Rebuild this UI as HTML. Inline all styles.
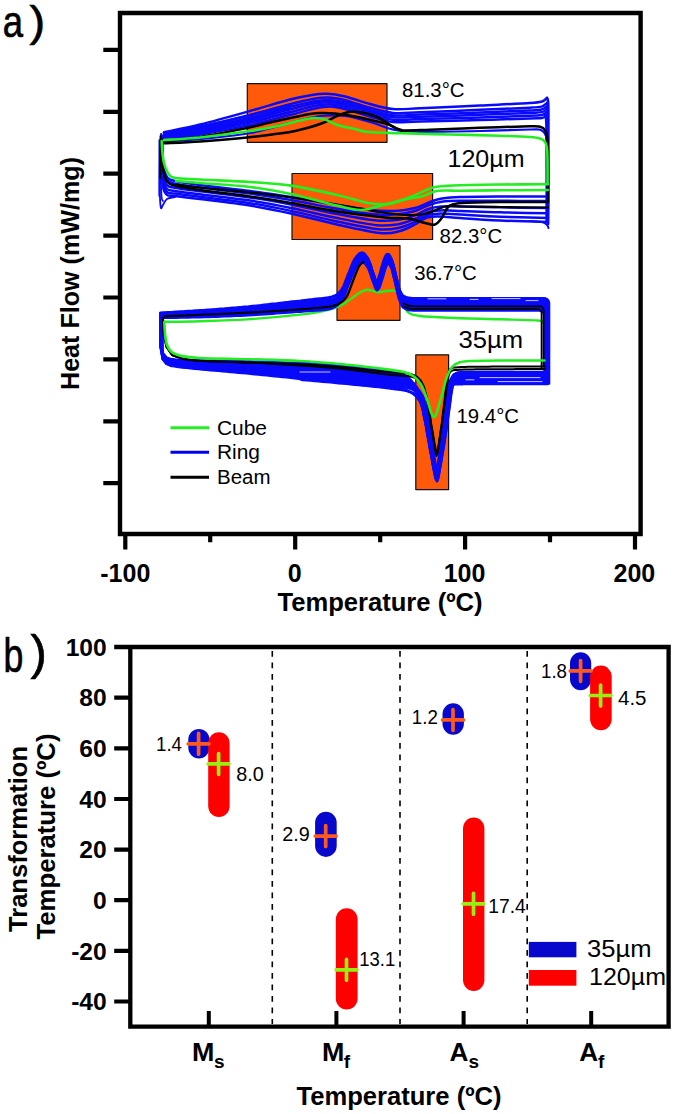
<!DOCTYPE html>
<html lang="en">
<head>
<meta charset="utf-8">
<title>DSC heat flow and transformation temperatures</title>
<style>
html,body{margin:0;padding:0;background:#fff;}
body{width:675px;height:1114px;overflow:hidden;font-family:"Liberation Sans",sans-serif;}
svg{display:block;}
</style>
</head>
<body>
<svg width="675" height="1114" viewBox="0 0 675 1114">
<rect width="675" height="1114" fill="#ffffff"/>
<g fill="none" stroke-linecap="round" stroke-linejoin="round">
<rect x="247.3" y="83.7" width="139.7" height="58.6" fill="#ff5a0a" stroke="#111" stroke-width="1.2"/>
<rect x="292" y="173.5" width="140.6" height="66" fill="#ff5a0a" stroke="#111" stroke-width="1.2"/>
<rect x="337" y="245.7" width="63" height="74.6" fill="#ff5a0a" stroke="#111" stroke-width="1.2"/>
<rect x="415.8" y="354.8" width="32.8" height="134.8" fill="#ff5a0a" stroke="#111" stroke-width="1.2"/>
<path d="M164 132.3C170 131 185.7 128.1 200 124.5C214.3 121 235 115.2 250 111C265 106.8 279.7 102.2 290 99.5C300.3 96.8 305.8 96 312 95C318.2 94 321.5 93.5 327 93.8C332.5 94 337.8 94.8 345 96.5C352.2 98.2 362 101.9 370 104C378 106.1 384.7 108.3 393 109C401.3 109.7 405.5 108.9 420 108.3C434.5 107.7 461.7 106.4 480 105.5C498.3 104.6 519.7 103.7 530 103C540.3 102.3 539.2 102.3 542 101.5C544.8 100.7 546.2 98.6 547 98" stroke="#0a0afa" stroke-width="2.5" />
<path d="M164 134.6C170 133.4 185.7 130.7 200 127.5C214.3 124.3 235 119.1 250 115.2C265 111.3 279.5 106.8 290 104.2C300.5 101.5 306.6 100.1 312.9 99C319.2 98 322.5 97.4 327.9 97.6C333.2 97.8 338 98.6 345 100.2C352 101.9 362 105.6 370 107.8C378 109.9 384.7 112.1 393 112.9C401.3 113.7 405.5 112.8 420 112.3C434.5 111.8 461.7 110.6 480 109.8C498.3 109.1 519.7 108.2 530 107.7C540.3 107.1 539.2 107.2 542 106.5C544.8 105.7 546.2 103.7 547 103.1" stroke="#0a0afa" stroke-width="2.5" />
<path d="M164 136C170 134.9 185.7 132.3 200 129.3C214.3 126.3 235 121.4 250 117.7C265 114 279.4 109.6 290 106.9C300.6 104.2 307 102.7 313.4 101.5C319.8 100.3 323.2 99.7 328.4 99.9C333.7 100.1 338.1 100.8 345 102.5C351.9 104.2 362 107.9 370 110C378 112.1 384.7 114.5 393 115.2C401.3 116 405.5 115.1 420 114.6C434.5 114.2 461.7 113.2 480 112.5C498.3 111.8 519.7 110.9 530 110.4C540.3 109.9 539.2 110.1 542 109.4C544.8 108.7 546.2 106.7 547 106.2" stroke="#0a0afa" stroke-width="2.5" />
<path d="M164 137.2C170 136.2 185.7 133.8 200 130.9C214.3 128 235 123.5 250 120C265 116.4 279.3 112.1 290 109.4C300.7 106.7 307.4 104.9 313.9 103.6C320.4 102.4 323.7 101.8 328.9 101.9C334.1 102.1 338.2 102.8 345 104.5C351.8 106.2 362 109.9 370 112C378 114.1 384.7 116.5 393 117.3C401.3 118.1 405.5 117.2 420 116.7C434.5 116.3 461.7 115.4 480 114.8C498.3 114.1 519.7 113.4 530 112.9C540.3 112.5 539.2 112.7 542 112.1C544.8 111.4 546.2 109.4 547 108.9" stroke="#0a0afa" stroke-width="2.5" />
<path d="M164 138.6C170 137.6 185.7 135.4 200 132.7C214.3 130 235 125.9 250 122.5C265 119.1 279.3 114.9 290 112.2C300.7 109.5 307.9 107.4 314.5 106.1C321 104.7 324.4 104.1 329.5 104.2C334.5 104.3 338.2 105.1 345 106.8C351.8 108.4 362 112.1 370 114.2C378 116.4 384.7 118.8 393 119.7C401.3 120.5 405.5 119.5 420 119.1C434.5 118.7 461.7 118 480 117.4C498.3 116.8 519.7 116.1 530 115.7C540.3 115.3 539.2 115.7 542 115C544.8 114.4 546.2 112.5 547 111.9" stroke="#0a0afa" stroke-width="2.5" />
<path d="M164 140C170 139.1 185.7 137 200 134.5C214.3 132 235 128.2 250 125C265 121.8 279.2 117.8 290 115C300.8 112.2 308.3 109.9 315 108.5C321.7 107.1 325 106.4 330 106.5C335 106.6 338.3 107.3 345 109C351.7 110.7 362 114.3 370 116.5C378 118.7 384.7 121.2 393 122C401.3 122.8 405.5 121.8 420 121.5C434.5 121.2 461.7 120.5 480 120C498.3 119.5 519.7 118.8 530 118.5C540.3 118.2 539.2 118.6 542 118C544.8 117.4 546.2 115.5 547 115" stroke="#0a0afa" stroke-width="2.5" />
<path d="M164 133C170 131.9 185.7 129.5 200 126.5C214.3 123.5 235 118.6 250 115C265 111.4 283.3 106.7 290 105" stroke="#0a0afa" stroke-width="2.5" />
<path d="M164 135.5C170 134.5 185.7 132.3 200 129.5C214.3 126.7 235 122 250 118.5C265 115 283.3 110.2 290 108.5" stroke="#0a0afa" stroke-width="2.5" />
<path d="M164 138C170 137.1 185.7 135.2 200 132.5C214.3 129.8 235 125.4 250 122C265 118.6 283.3 113.7 290 112" stroke="#0a0afa" stroke-width="2.5" />
<path d="M164 142C170 141.5 185.7 140.5 200 139C214.3 137.5 234.2 135.9 250 133C265.8 130.1 283.3 124.3 295 121.5C306.7 118.7 311.7 116.9 320 116C328.3 115.1 336.7 115 345 116C353.3 117 361.7 119.7 370 122C378.3 124.3 386.7 128.4 395 130C403.3 131.6 405.8 131.6 420 131.8C434.2 132 461.7 131.4 480 131C498.3 130.6 519.8 129.7 530 129.5C540.2 129.3 538.3 128.9 541 130C543.7 131.1 544.9 132.7 546 136C547.1 139.3 547.2 147.7 547.5 150" stroke="#0a0afa" stroke-width="2.2" />
<path d="M548 196.5C540 196.5 514.7 196.4 500 196.5C485.3 196.6 469.7 196.7 460 197C450.3 197.3 447 197.7 442 198.5C437 199.3 434.5 200.4 430 202C425.5 203.6 420.8 206.5 415 208C409.2 209.5 402.5 210.7 395 211C387.5 211.3 380.8 211.2 370 210C359.2 208.8 343.2 206.2 330 204C316.8 201.8 304.3 199.2 291 197C277.7 194.8 265.2 193 250 191C234.8 189 212.5 186.7 200 185C187.5 183.3 180.5 182.3 175 181C169.5 179.7 168.9 179.7 167 177C165.1 174.3 164.2 171.8 163.3 165C162.4 158.2 162 140.8 161.7 136" stroke="#0a0afa" stroke-width="2.5" />
<path d="M548 201.1C540 201 514.7 200.9 500 200.8C485.3 200.8 469.7 200.6 460 200.8C450.3 200.9 446.7 201.1 441.6 201.7C436.5 202.4 433.9 203.3 429.5 204.8C425 206.3 420.6 209.3 415 211C409.4 212.6 403.1 214.1 395.9 214.6C388.7 215.1 382.6 215.3 371.8 214.1C361 213 344.7 210.1 331.3 207.7C317.8 205.3 304.5 202.3 291 200C277.5 197.6 265.2 195.7 250 193.6C234.8 191.5 212.5 189.2 200 187.5C187.5 185.9 180.5 184.9 175 183.7C169.5 182.5 168.8 182.7 166.8 180.1C164.8 177.4 164 175 163.1 167.7C162.3 160.4 161.9 141.3 161.6 136" stroke="#0a0afa" stroke-width="2.5" />
<path d="M548 208C540 207.9 514.7 207.6 500 207.3C485.3 207 469.8 206.6 460 206.4C450.2 206.3 446.3 206.2 441.1 206.6C435.9 207 433 207.5 428.6 209C424.3 210.4 420.2 213.6 415 215.4C409.8 217.3 404 219.2 397.2 220C390.5 220.8 385.2 221.5 374.5 220.3C363.8 219.2 347.1 215.9 333.1 213.2C319.2 210.6 304.9 207 291 204.4C277.1 201.8 265.2 199.7 250 197.5C234.8 195.3 212.5 192.9 200 191.3C187.5 189.7 180.6 188.9 175 187.8C169.4 186.6 168.6 187.3 166.6 184.7C164.5 182 163.7 179.9 162.9 171.8C162 163.6 161.7 142 161.5 136" stroke="#0a0afa" stroke-width="2.5" />
<path d="M548 213.3C540 213.2 514.7 212.8 500 212.3C485.3 211.9 469.9 211.2 460 210.9C450.1 210.5 446 210.2 440.7 210.4C435.4 210.6 432.3 210.8 428 212.2C423.7 213.6 420 216.9 415 218.9C410 220.9 404.7 223.2 398.3 224.2C391.9 225.2 387.2 226.3 376.6 225.2C366 224.1 348.9 220.4 334.6 217.5C320.4 214.6 305.1 210.7 291 207.9C276.9 205.1 265.2 202.8 250 200.6C234.8 198.3 212.5 195.9 200 194.2C187.5 192.6 180.6 191.9 175 190.9C169.4 189.9 168.4 190.9 166.3 188.2C164.3 185.6 163.5 183.6 162.6 174.9C161.8 166.2 161.6 142.5 161.4 136" stroke="#0a0afa" stroke-width="2.5" />
<path d="M548 217.9C540 217.7 514.7 217.2 500 216.7C485.3 216.1 469.9 215.1 460 214.6C450.1 214.1 445.7 213.6 440.3 213.6C434.9 213.7 431.7 213.6 427.5 215C423.3 216.4 419.7 219.7 415 221.9C410.3 224 405.3 226.6 399.2 227.8C393.1 229 389 230.4 378.4 229.3C367.8 228.2 350.4 224.3 335.9 221.2C321.3 218.1 305.3 213.9 291 210.9C276.7 207.9 265.2 205.5 250 203.2C234.8 200.8 212.5 198.4 200 196.8C187.5 195.2 180.6 194.5 175 193.6C169.4 192.7 168.2 193.9 166.2 191.3C164.1 188.6 163.3 186.8 162.5 177.6C161.6 168.4 161.5 142.9 161.3 136" stroke="#0a0afa" stroke-width="2.5" />
<path d="M548 222C540 221.8 514.7 221.2 500 220.5C485.3 219.8 470 218.7 460 218C450 217.3 445.5 216.6 440 216.5C434.5 216.4 431.2 216.2 427 217.5C422.8 218.8 419.5 222.2 415 224.5C410.5 226.8 405.8 229.6 400 231C394.2 232.4 390.5 234.1 380 233C369.5 231.9 351.8 227.8 337 224.5C322.2 221.2 305.5 216.7 291 213.5C276.5 210.3 265.2 207.9 250 205.5C234.8 203.1 212.5 200.6 200 199C187.5 197.4 180.7 196.8 175 196C169.3 195.2 168.1 196.7 166 194C163.9 191.3 163.1 189.7 162.3 180C161.5 170.3 161.4 143.3 161.2 136" stroke="#0a0afa" stroke-width="2.5" />
<path d="M175 197C173.7 197.3 169 197.7 167 199C165 200.3 164 203.6 163 205C162 206.4 161.3 210 160.8 207.5C160.3 205 159.9 199.6 159.8 190C159.7 180.4 159.9 159.3 160.1 150C160.3 140.7 160.9 136.7 161.1 134" stroke="#0a0afa" stroke-width="1.8" />
<path d="M161.4 134C161.3 138.3 160.6 149.8 160.6 160C160.6 170.2 161 188.2 161.4 195C161.8 201.8 162.7 200 163 201" stroke="#0a0afa" stroke-width="1.8" />
<path d="M159.3 140C159.3 149.3 159.2 186.7 159.2 196" stroke="#0a0afa" stroke-width="1.6" />
<path d="M547 98C547.2 99.2 548 96.3 548.2 105C548.4 113.7 548.3 134.2 548.3 150C548.3 165.8 548.3 187.7 548.3 200C548.2 212.3 548 220 548 224" stroke="#0a0afa" stroke-width="2.8" />
<path d="M545 114C545.2 115.8 546 114 546.3 125C546.6 136 546.6 163.8 546.6 180C546.6 196.2 546.5 215 546.5 222" stroke="#0a0afa" stroke-width="2.4" />
<path d="M530 221C532 221.2 539.2 221.3 542 222C544.8 222.7 545.9 224 547 225C548.1 226 548.2 227.5 548.5 228" stroke="#0a0afa" stroke-width="2" />
<path d="M164 141C170 140.3 186.2 139.2 200 137C213.8 134.8 235.3 130.4 247 128C258.7 125.6 262 124.3 270 122.5C278 120.7 288.3 118.4 295 117C301.7 115.6 305.7 114.7 310 114C314.3 113.3 316.6 113.1 320.8 113C325 112.9 329.3 112.9 335 113.5C340.7 114.1 348.3 115.2 355 116.5C361.7 117.8 369.2 119.6 375 121C380.8 122.4 386 123.5 390 125C394 126.5 396.3 128.9 399 129.8C401.7 130.7 400.8 130.5 406 130.5C411.2 130.5 417.7 130.2 430 129.8C442.3 129.4 463.3 128.4 480 127.8C496.7 127.2 520 126.5 530 126.3C540 126.1 537.5 126.2 540 126.8C542.5 127.4 543.8 127.8 545 130C546.2 132.2 547 134.2 547.5 140C548 145.8 547.9 154.7 548 165C548.1 175.3 548 195.8 548 202" stroke="#000000" stroke-width="2.5" />
<path d="M164 143.3C170 143 186.2 142.5 200 141.5C213.8 140.5 234.5 138.8 247 137.5C259.5 136.2 267 135.1 275 134C283 132.9 287.4 132.7 295 131C302.6 129.3 313.8 126.3 320.8 123.8C327.8 121.3 332.3 118 337 116C341.7 114 344.8 112.6 349 112C353.2 111.4 357.5 111.8 362 112.5C366.5 113.2 372.2 115 376 116.5C379.8 118 382 119.7 385 121.5C388 123.3 391.2 125.9 394 127.4C396.8 128.9 400.7 129.8 402 130.3" stroke="#000000" stroke-width="2.5" />
<path d="M548 202C540 202 514.3 201.8 500 202C485.7 202.2 470.3 202.4 462 203C453.7 203.6 452.8 204.2 450 205.5C447.2 206.8 447 208.8 445.5 211C444 213.2 442.8 216.8 441 219C439.2 221.2 437.7 223.8 435 224.5C432.3 225.2 429.4 224 425 223C420.6 222 415.2 219.5 408.5 218.6C401.8 217.7 396.9 218.6 385 217.4C373.1 216.2 352.7 213.9 337 211.5C321.3 209.1 305.5 205.5 291 203C276.5 200.5 265.2 198.7 250 196.5C234.8 194.3 212.3 191.8 200 190C187.7 188.2 181.4 187.1 176 185.8C170.6 184.5 169.6 184.8 167.5 182C165.4 179.2 164.2 176 163.3 169C162.4 162 162.1 144.8 161.8 140" stroke="#000000" stroke-width="2.5" />
<path d="M548 207.5C540 207.4 514.3 207.2 500 207C485.7 206.8 470.7 206.7 462 206.5C453.3 206.3 452 205.6 448 206C444 206.4 441.8 207.7 438 209C434.2 210.3 430.5 213 425 214C419.5 215 412.5 215.3 405 215C397.5 214.7 390.8 213.7 380 212C369.2 210.3 354.8 207.4 340 205C325.2 202.6 306 199.6 291 197.5C276 195.4 265.2 194.2 250 192.5C234.8 190.8 212.3 188.8 200 187.5C187.7 186.2 180 185 176 184.5" stroke="#000000" stroke-width="2.2" />
<path d="M160.6 136C160.6 143 160.4 171 160.4 178" stroke="#000000" stroke-width="2" />
<path d="M164 140C170 139.6 185.7 139 200 137.5C214.3 136 237 132.9 250 131C263 129.1 269.7 127.8 278 126C286.3 124.2 294.1 121.8 300 120.5C305.9 119.2 309.5 118.2 313.7 118C317.9 117.8 321.1 118.3 325 119.5C328.9 120.7 332.4 123.4 337.4 125C342.4 126.6 349.9 127.8 355 129C360.1 130.2 360.3 131.3 368 132C375.7 132.7 387.3 132.9 401 133.3C414.7 133.7 433.5 134.1 450 134.5C466.5 134.9 486.7 135.3 500 135.7C513.3 136.1 523.3 136.5 530 137C536.7 137.5 537.5 137.7 540 138.5C542.5 139.3 543.8 139.8 545 142C546.2 144.2 546.9 145 547.3 152C547.7 159 547.5 178.7 547.6 184" stroke="#22ee22" stroke-width="2.6" />
<path d="M548 184.3C540 184.3 514.7 184.3 500 184.5C485.3 184.7 469.2 184.9 460 185.2C450.8 185.4 449.7 185.6 445 186C440.3 186.4 437.3 186.1 432 187.8C426.7 189.5 419.2 193.6 413 196C406.8 198.4 399.7 201.1 395 202.5C390.3 203.9 389.5 204.3 385 204.4C380.5 204.5 376 204.6 368 203C360 201.4 349.8 197.9 337 195C324.2 192.1 305.5 187.8 291 185.6C276.5 183.4 265.2 183 250 182C234.8 181 212.3 180.2 200 179.5C187.7 178.8 181.2 178.8 176 178C170.8 177.2 171 177 169 174.5C167 172 165.1 167.1 164 163C162.9 158.9 162.6 153.7 162.2 150C161.8 146.3 161.8 142.5 161.7 141" stroke="#22ee22" stroke-width="2.6" />
<path d="M548 190C540 190.1 514.7 190.2 500 190.3C485.3 190.4 468.8 190.8 460 190.8C451.2 190.8 451.2 190.4 447 190.5C442.8 190.6 438.5 190.5 434.5 191.4C430.5 192.3 428.1 194.6 423 196C417.9 197.4 410.3 198.3 404 199.7C397.7 201.1 392.2 202.7 385 204.4C377.8 206.1 369 209.8 361 210C353 210.2 348.7 208.3 337 205.6C325.3 202.9 305.5 197.1 291 194C276.5 190.9 265.2 188.8 250 187C234.8 185.2 212.3 184 200 183C187.7 182 180 181.3 176 181" stroke="#22ee22" stroke-width="2.6" />
<path d="M161.5 321.8C167.9 321.7 185.8 321.6 200 321.2C214.2 320.8 230.3 320.5 247 319.4C263.7 318.3 287.5 316 300 314.6C312.5 313.2 315.3 312.8 322 311.3C328.7 309.8 335 308 340 305.8C345 303.6 348.7 300.2 352 298C355.3 295.8 357.5 293.9 360 292.5C362.5 291.1 364.8 290.1 367 289.8C369.2 289.6 371 290.6 373 291C375 291.4 376.8 292.2 379 292.2C381.2 292.2 383.8 291.3 386 291C388.2 290.7 390.2 290.5 392 290.5C393.8 290.5 395.2 290.2 396.5 291C397.8 291.8 398.8 292.5 400 295C401.2 297.5 402.5 303 404 306C405.5 309 406.3 311.3 409 313C411.7 314.7 413.3 315.2 420 316C426.7 316.8 435.7 317.2 449 317.8C462.3 318.4 485.5 318.9 500 319.3C514.5 319.7 528.8 319.9 536 320.4C543.2 320.8 541.2 320.6 543 322C544.8 323.4 545.7 325.2 546.5 329C547.3 332.8 547.8 339.8 548 345C548.2 350.2 548 357.5 548 360" stroke="#22ee22" stroke-width="2.4" />
<path d="M160.5 312.7L164.5 312.5L168.5 312.3L172.5 312.1L176.5 311.8L180.5 311.6L184.5 311.4L188.5 311.1L192.5 310.9L196.5 310.6L200.5 310.3L204.5 310.1L208.5 309.8L212.5 309.5L216.5 309.2L220.5 308.9L224.5 308.6L228.5 308.2L232.5 307.9L236.5 307.6L240.5 307.2L244.5 306.8L248.5 306.5L252.5 306.1L256.5 305.7L260.5 305.3L264.5 304.8L268.5 304.4L272.5 303.9L276.5 303.5L280.5 303L284.5 302.5L288.5 302.1L292.5 301.6L296.5 301.2L300.5 300.8L304.5 300.3L308.5 299.8L312.5 299.4L316.5 298.9L320.5 298.5L321.2 298.5L322 298.4L322.8 298.3L323.5 298.2L324.2 298.1L325 298L325.8 297.9L326.5 297.8L327.2 297.7L328 297.6L328.8 297.5L329.5 297.3L330.2 297.1L331 296.9L331.8 296.7L332.5 296.5L333.2 296.2L334 295.9L334.8 295.6L335.5 295.3L336.2 295L337 294.6L337.8 294L338.5 293.4L339.2 292.7L340 292L340.8 291.1L341.5 290.2L342.2 289.3L343 288.3L343.8 287.1L344.5 285.7L345.2 284.1L346 282.4L346.8 280.5L347.5 278.6L348.2 276.6L349 274.7L349.8 272.9L350.5 271.1L351.2 269.3L352 267.4L352.8 265.6L353.5 263.7L354.2 262L355 260.5L355.8 259.1L356.5 258L357.2 257.1L358 256.2L358.8 255.3L359.5 254.5L360.2 253.8L361 253.3L361.8 252.9L362.5 252.8L363.2 253L364 253.4L364.8 254.1L365.5 254.9L366.2 255.9L367 257L367.8 258.1L368.5 259.4L369.2 261.2L370 263.4L370.8 265.9L371.5 268.3L372.2 270.7L373 272.8L373.8 274.9L374.5 277.2L375.2 279.4L376 281.2L376.8 282.3L377.5 282.5L378.2 281.6L379 279.7L379.8 277.3L380.5 274.8L381.2 272.5L382 270L382.8 267.3L383.5 264.6L384.2 262.1L385 260L385.8 258.1L386.5 256.3L387.2 254.9L388 254.1L388.8 254.3L389.5 255.1L390.2 256.4L391 257.9L391.8 259.6L392.5 262L393.2 265.1L394 268.5L394.8 271.8L395.5 274.8L396.2 278.1L397 281.4L397.8 284.4L398.5 287L399.2 288.9L400 290.6L400.8 292.2L401.5 293.6L402.2 294.7L403 295.6L403.8 296.1L404.5 296.4L405.2 296.8L406 297.1L406.8 297.4L407.5 297.6L408.2 297.8L409 297.9L409.8 298L410.5 298.1L411.2 298.1L412 298.2L412.8 298.2L413.5 298.2L414.2 298.3L418.2 298.3L422.2 298.3L426.2 298.3L430.2 298.3L434.2 298.3L438.2 298.3L442.2 298.3L446.2 298.3L450.2 298.3L454.2 298.3L458.2 298.3L462.2 298.3L466.2 298.3L470.2 298.3L474.2 298.3L478.2 298.3L482.2 298.3L486.2 298.3L490.2 298.3L494.2 298.3L498.2 298.3L502.2 298.3L506.2 298.3L510.2 298.3L514.2 298.3L518.2 298.3L522.2 298.3L526.2 298.3L530.2 298.3L534.2 298.3L538.2 298.3L542.2 298.3L544 298.3L545.3 298.5L546.5 299L547.5 299.8L548.3 300.8L548.8 302L549 303.3L549 383.5" stroke="#0a0afa" stroke-width="2.6" />
<path d="M160.5 313.3L164.5 313.1L168.5 313L172.5 312.8L176.5 312.6L180.5 312.3L184.5 312.1L188.5 311.9L192.5 311.7L196.5 311.4L200.5 311.2L204.5 310.9L208.5 310.7L212.5 310.4L216.5 310.1L220.5 309.8L224.5 309.5L228.5 309.2L232.5 308.9L236.5 308.6L240.5 308.3L244.5 307.9L248.5 307.6L252.5 307.2L256.5 306.8L260.5 306.4L264.5 306L268.5 305.6L272.5 305.1L276.5 304.7L280.5 304.2L284.5 303.8L288.5 303.4L292.5 302.9L296.5 302.5L300.5 302.1L304.5 301.7L308.5 301.2L312.5 300.8L316.5 300.4L320.5 300L321.2 299.9L322 299.8L322.8 299.7L323.5 299.6L324.2 299.4L325 299.3L325.8 299.2L326.5 299.1L327.2 299L328 298.8L328.8 298.7L329.5 298.5L330.2 298.3L331 298L331.8 297.7L332.5 297.4L333.2 297.1L334 296.8L334.8 296.4L335.5 296L336.2 295.5L337 294.9L337.8 294.2L338.5 293.4L339.2 292.6L340 291.7L340.8 290.7L341.5 289.6L342.2 288.5L343 287.1L343.8 285.5L344.5 283.7L345.2 281.8L346 279.8L346.8 277.8L347.5 275.8L348.2 274L349 272.2L349.8 270.4L350.5 268.5L351.2 266.6L352 264.7L352.8 262.9L353.5 261.2L354.2 259.8L355 258.6L355.8 257.6L356.5 256.6L357.2 255.7L358 254.9L358.8 254.1L359.5 253.5L360.2 253.1L361 252.9L361.8 252.9L362.5 253.3L363.2 253.8L364 254.6L364.8 255.6L365.5 256.7L366.2 257.8L367 259L367.8 260.6L368.5 262.7L369.2 265.1L370 267.6L370.8 270.1L371.5 272.4L372.2 274.4L373 276.7L373.8 279L374.5 281L375.2 282.5L376 283.2L376.8 282.7L377.5 281.1L378.2 278.8L379 276.2L379.8 273.8L380.5 271.4L381.2 268.7L382 265.9L382.8 263.2L383.5 260.9L384.2 259L385 257.1L385.8 255.5L386.5 254.4L387.2 254.2L388 254.8L388.8 255.9L389.5 257.4L390.2 259.1L391 261.2L391.8 264.1L392.5 267.4L393.2 270.8L394 274L394.8 277.2L395.5 280.6L396.2 283.9L397 286.8L397.8 289.1L398.5 290.9L399.2 292.7L400 294.2L400.8 295.6L401.5 296.6L402.2 297.3L403 297.7L403.8 298.1L404.5 298.4L405.2 298.7L406 299L406.8 299.2L407.5 299.3L408.2 299.5L409 299.5L409.8 299.6L410.5 299.7L411.2 299.7L412 299.7L412.8 299.8L413.5 299.8L414.2 299.8L418.2 299.8L422.2 299.8L426.2 299.8L430.2 299.8L434.2 299.8L438.2 299.8L442.2 299.8L446.2 299.8L450.2 299.8L454.2 299.8L458.2 299.8L462.2 299.8L466.2 299.8L470.2 299.8L474.2 299.8L478.2 299.8L482.2 299.8L486.2 299.8L490.2 299.8L494.2 299.8L498.2 299.8L502.2 299.8L506.2 299.8L510.2 299.8L514.2 299.8L518.2 299.8L522.2 299.8L526.2 299.8L530.2 299.8L534.2 299.8L538.2 299.8L542.2 299.8L543.5 299.8L544.7 300L546 300.5L547 301.3L547.8 302.3L548.3 303.5L548.5 304.8L548.5 383.2" stroke="#0a0afa" stroke-width="2.6" />
<path d="M160.5 314L164.5 313.8L168.5 313.6L172.5 313.5L176.5 313.3L180.5 313.1L184.5 312.9L188.5 312.7L192.5 312.5L196.5 312.3L200.5 312L204.5 311.8L208.5 311.6L212.5 311.3L216.5 311L220.5 310.8L224.5 310.5L228.5 310.2L232.5 309.9L236.5 309.6L240.5 309.3L244.5 309L248.5 308.7L252.5 308.3L256.5 308L260.5 307.6L264.5 307.2L268.5 306.8L272.5 306.4L276.5 305.9L280.5 305.5L284.5 305.1L288.5 304.6L292.5 304.2L296.5 303.8L300.5 303.5L304.5 303.1L308.5 302.6L312.5 302.2L316.5 301.8L320.5 301.5L321.2 301.4L322 301.3L322.8 301.3L323.5 301.2L324.2 301.1L325 301L325.8 300.9L326.5 300.8L327.2 300.7L328 300.6L328.8 300.5L329.5 300.4L330.2 300.3L331 300.1L331.8 299.9L332.5 299.7L333.2 299.4L334 299.2L334.8 298.9L335.5 298.6L336.2 298.2L337 297.9L337.8 297.4L338.5 296.9L339.2 296.2L340 295.5L340.8 294.7L341.5 293.8L342.2 292.9L343 291.9L343.8 290.8L344.5 289.6L345.2 288.1L346 286.4L346.8 284.6L347.5 282.6L348.2 280.7L349 278.8L349.8 277L350.5 275.2L351.2 273.5L352 271.7L352.8 269.9L353.5 268.1L354.2 266.3L355 264.6L355.8 263L356.5 261.7L357.2 260.6L358 259.7L358.8 258.8L359.5 258L360.2 257.2L361 256.5L361.8 256L362.5 255.6L363.2 255.5L364 255.6L364.8 256L365.5 256.7L366.2 257.5L367 258.4L367.8 259.5L368.5 260.6L369.2 261.8L370 263.6L370.8 265.7L371.5 268.1L372.2 270.5L373 272.8L373.8 274.9L374.5 276.9L375.2 279.1L376 281.2L376.8 283.1L377.5 284.3L378.2 284.6L379 283.7L379.8 281.9L380.5 279.6L381.2 277.1L382 274.9L382.8 272.5L383.5 269.8L384.2 267.1L385 264.7L385.8 262.6L386.5 260.8L387.2 259L388 257.6L388.8 256.8L389.5 256.9L390.2 257.7L391 258.9L391.8 260.4L392.5 262L393.2 264.3L394 267.3L394.8 270.6L395.5 273.8L396.2 276.8L397 280L397.8 283.2L398.5 286.4L399.2 289.1L400 291.2L400.8 293L401.5 294.7L402.2 296.2L403 297.5L403.8 298.4L404.5 298.9L405.2 299.4L406 299.7L406.8 300.1L407.5 300.3L408.2 300.6L409 300.8L409.8 300.9L410.5 301L411.2 301.1L412 301.1L412.8 301.2L413.5 301.2L414.2 301.3L418.2 301.4L422.2 301.4L426.2 301.4L430.2 301.4L434.2 301.4L438.2 301.4L442.2 301.4L446.2 301.4L450.2 301.4L454.2 301.4L458.2 301.4L462.2 301.4L466.2 301.4L470.2 301.4L474.2 301.4L478.2 301.4L482.2 301.4L486.2 301.4L490.2 301.4L494.2 301.4L498.2 301.4L502.2 301.4L506.2 301.4L510.2 301.4L514.2 301.4L518.2 301.4L522.2 301.4L526.2 301.4L530.2 301.4L534.2 301.4L538.2 301.4L542.2 301.4L542.9 301.4L544.2 301.5L545.4 302L546.4 302.8L547.2 303.9L547.7 305.1L547.9 306.4L547.9 382.9" stroke="#0a0afa" stroke-width="2.6" />
<path d="M160.5 314.6L164.5 314.5L168.5 314.3L172.5 314.2L176.5 314L180.5 313.8L184.5 313.7L188.5 313.5L192.5 313.3L196.5 313.1L200.5 312.9L204.5 312.7L208.5 312.4L212.5 312.2L216.5 312L220.5 311.7L224.5 311.5L228.5 311.2L232.5 310.9L236.5 310.6L240.5 310.3L244.5 310.1L248.5 309.7L252.5 309.4L256.5 309.1L260.5 308.7L264.5 308.4L268.5 308L272.5 307.6L276.5 307.2L280.5 306.7L284.5 306.3L288.5 305.9L292.5 305.5L296.5 305.2L300.5 304.8L304.5 304.4L308.5 304L312.5 303.6L316.5 303.2L320.5 302.9L321.2 302.8L322 302.7L322.8 302.6L323.5 302.5L324.2 302.4L325 302.3L325.8 302.2L326.5 302.1L327.2 302L328 301.9L328.8 301.7L329.5 301.6L330.2 301.4L331 301.1L331.8 300.9L332.5 300.6L333.2 300.3L334 300L334.8 299.6L335.5 299.2L336.2 298.8L337 298.2L337.8 297.6L338.5 296.8L339.2 296L340 295L340.8 294L341.5 293L342.2 291.9L343 290.6L343.8 289.1L344.5 287.4L345.2 285.4L346 283.4L346.8 281.4L347.5 279.4L348.2 277.5L349 275.6L349.8 273.9L350.5 272.1L351.2 270.2L352 268.3L352.8 266.4L353.5 264.7L354.2 263L355 261.6L355.8 260.4L356.5 259.5L357.2 258.5L358 257.6L358.8 256.8L359.5 256.1L360.2 255.5L361 255.1L361.8 254.9L362.5 254.9L363.2 255.3L364 255.9L364.8 256.7L365.5 257.6L366.2 258.7L367 259.8L367.8 261L368.5 262.7L369.2 264.8L370 267.1L370.8 269.6L371.5 272.1L372.2 274.3L373 276.3L373.8 278.6L374.5 280.8L375.2 282.8L376 284.3L376.8 285L377.5 284.4L378.2 282.6L379 280.4L379.8 277.8L380.5 275.4L381.2 273.1L382 270.4L382.8 267.6L383.5 265L384.2 262.7L385 260.9L385.8 259L386.5 257.4L387.2 256.3L388 256.2L388.8 256.8L389.5 258L390.2 259.5L391 261.1L391.8 263.2L392.5 266.2L393.2 269.5L394 272.9L394.8 276L395.5 279.2L396.2 282.5L397 286L397.8 289.1L398.5 291.5L399.2 293.5L400 295.3L400.8 297L401.5 298.4L402.2 299.5L403 300.2L403.8 300.6L404.5 301L405.2 301.4L406 301.7L406.8 302L407.5 302.2L408.2 302.4L409 302.5L409.8 302.6L410.5 302.6L411.2 302.7L412 302.8L412.8 302.8L413.5 302.8L414.2 302.9L418.2 302.9L422.2 302.9L426.2 302.9L430.2 302.9L434.2 302.9L438.2 302.9L442.2 302.9L446.2 302.9L450.2 302.9L454.2 302.9L458.2 302.9L462.2 302.9L466.2 302.9L470.2 302.9L474.2 302.9L478.2 302.9L482.2 302.9L486.2 302.9L490.2 302.9L494.2 302.9L498.2 302.9L502.2 302.9L506.2 302.9L510.2 302.9L514.2 302.9L518.2 302.9L522.2 302.9L526.2 302.9L530.2 302.9L534.2 302.9L538.2 302.9L542.2 302.9L542.4 302.9L543.6 303L544.9 303.5L545.9 304.3L546.7 305.4L547.2 306.6L547.4 307.9L547.4 382.6" stroke="#0a0afa" stroke-width="2.6" />
<path d="M160.5 315.2L164.5 315.1L168.5 315L172.5 314.9L176.5 314.7L180.5 314.6L184.5 314.4L188.5 314.3L192.5 314.1L196.5 313.9L200.5 313.7L204.5 313.5L208.5 313.3L212.5 313.1L216.5 312.9L220.5 312.7L224.5 312.4L228.5 312.2L232.5 311.9L236.5 311.7L240.5 311.4L244.5 311.1L248.5 310.8L252.5 310.5L256.5 310.2L260.5 309.9L264.5 309.5L268.5 309.2L272.5 308.8L276.5 308.4L280.5 308L284.5 307.6L288.5 307.2L292.5 306.9L296.5 306.5L300.5 306.2L304.5 305.8L308.5 305.4L312.5 305L316.5 304.7L320.5 304.4L321.2 304.3L322 304.3L322.8 304.2L323.5 304.1L324.2 304.1L325 304L325.8 303.9L326.5 303.8L327.2 303.7L328 303.6L328.8 303.5L329.5 303.4L330.2 303.3L331 303.1L331.8 303L332.5 302.7L333.2 302.5L334 302.2L334.8 301.9L335.5 301.6L336.2 301.3L337 300.9L337.8 300.5L338.5 299.9L339.2 299.3L340 298.6L340.8 297.8L341.5 296.8L342.2 295.9L343 294.8L343.8 293.7L344.5 292.5L345.2 291L346 289.3L346.8 287.4L347.5 285.4L348.2 283.5L349 281.6L349.8 279.7L350.5 277.9L351.2 276.2L352 274.5L352.8 272.7L353.5 270.9L354.2 269.1L355 267.4L355.8 265.8L356.5 264.3L357.2 263.1L358 262.2L358.8 261.3L359.5 260.4L360.2 259.6L361 258.8L361.8 258.2L362.5 257.8L363.2 257.5L364 257.5L364.8 257.8L365.5 258.3L366.2 259L367 259.9L367.8 260.9L368.5 262L369.2 263.1L370 264.5L370.8 266.4L371.5 268.7L372.2 271L373 273.4L373.8 275.6L374.5 277.5L375.2 279.7L376 281.9L376.8 283.9L377.5 285.5L378.2 286.4L379 286.1L379.8 284.7L380.5 282.6L381.2 280.2L382 277.8L382.8 275.6L383.5 273.1L384.2 270.4L385 267.8L385.8 265.6L386.5 263.7L387.2 261.9L388 260.3L388.8 259.1L389.5 258.7L390.2 259.2L391 260.2L391.8 261.5L392.5 263.1L393.2 264.9L394 267.5L394.8 270.7L395.5 273.9L396.2 277L397 280L397.8 283.2L398.5 286.5L399.2 289.8L400 292.4L400.8 294.5L401.5 296.4L402.2 298.1L403 299.6L403.8 300.7L404.5 301.5L405.2 302L406 302.4L406.8 302.8L407.5 303.2L408.2 303.4L409 303.7L409.8 303.9L410.5 304L411.2 304.1L412 304.1L412.8 304.2L413.5 304.3L414.2 304.3L418.2 304.4L422.2 304.4L426.2 304.4L430.2 304.4L434.2 304.4L438.2 304.4L442.2 304.4L446.2 304.4L450.2 304.4L454.2 304.4L458.2 304.4L462.2 304.4L466.2 304.4L470.2 304.4L474.2 304.4L478.2 304.4L482.2 304.4L486.2 304.4L490.2 304.4L494.2 304.4L498.2 304.4L502.2 304.4L506.2 304.4L510.2 304.4L514.2 304.4L518.2 304.4L522.2 304.4L526.2 304.4L530.2 304.4L534.2 304.4L538.2 304.4L541.8 304.4L543.1 304.6L544.3 305.1L545.3 305.9L546.1 306.9L546.6 308.1L546.8 309.4L546.8 382.3" stroke="#0a0afa" stroke-width="2.6" />
<path d="M160.5 315.9L164.5 315.8L168.5 315.7L172.5 315.6L176.5 315.4L180.5 315.3L184.5 315.2L188.5 315L192.5 314.9L196.5 314.7L200.5 314.6L204.5 314.4L208.5 314.2L212.5 314L216.5 313.8L220.5 313.6L224.5 313.4L228.5 313.2L232.5 312.9L236.5 312.7L240.5 312.4L244.5 312.2L248.5 311.9L252.5 311.6L256.5 311.4L260.5 311L264.5 310.7L268.5 310.3L272.5 310L276.5 309.6L280.5 309.2L284.5 308.9L288.5 308.5L292.5 308.2L296.5 307.8L300.5 307.5L304.5 307.2L308.5 306.8L312.5 306.4L316.5 306.1L320.5 305.8L321.2 305.7L322 305.6L322.8 305.5L323.5 305.4L324.2 305.3L325 305.2L325.8 305.1L326.5 305L327.2 304.9L328 304.7L328.8 304.6L329.5 304.4L330.2 304.1L331 303.9L331.8 303.6L332.5 303.3L333.2 302.9L334 302.6L334.8 302.2L335.5 301.8L336.2 301.2L337 300.5L337.8 299.8L338.5 298.9L339.2 298L340 296.9L340.8 295.8L341.5 294.7L342.2 293.4L343 291.9L343.8 290.1L344.5 288.1L345.2 286L346 284L346.8 282L347.5 280.1L348.2 278.3L349 276.5L349.8 274.8L350.5 273L351.2 271.1L352 269.3L352.8 267.5L353.5 265.9L354.2 264.4L355 263.1L355.8 262.2L356.5 261.2L357.2 260.3L358 259.5L358.8 258.7L359.5 258.1L360.2 257.6L361 257.4L361.8 257.3L362.5 257.6L363.2 258.1L364 258.8L364.8 259.7L365.5 260.7L366.2 261.8L367 262.9L367.8 264.4L368.5 266.3L369.2 268.6L370 271L370.8 273.4L371.5 275.7L372.2 277.7L373 279.8L373.8 282.1L374.5 284.1L375.2 285.8L376 286.9L376.8 286.7L377.5 285.2L378.2 283.1L379 280.7L379.8 278.2L380.5 276L381.2 273.4L382 270.7L382.8 268L383.5 265.7L384.2 263.8L385 262L385.8 260.2L386.5 259L387.2 258.6L388 259L388.8 260L389.5 261.3L390.2 262.9L391 264.7L391.8 267.4L392.5 270.5L393.2 273.9L394 277L394.8 280.1L395.5 283.3L396.2 286.8L397 290.3L397.8 293.1L398.5 295.3L399.2 297.3L400 299.1L400.8 300.7L401.5 302L402.2 302.9L403 303.4L403.8 303.8L404.5 304.2L405.2 304.6L406 304.9L406.8 305.1L407.5 305.3L408.2 305.5L409 305.6L409.8 305.7L410.5 305.7L411.2 305.8L412 305.8L412.8 305.9L413.5 305.9L414.2 305.9L418.2 305.9L422.2 305.9L426.2 305.9L430.2 305.9L434.2 305.9L438.2 305.9L442.2 305.9L446.2 305.9L450.2 305.9L454.2 305.9L458.2 305.9L462.2 305.9L466.2 305.9L470.2 305.9L474.2 305.9L478.2 305.9L482.2 305.9L486.2 305.9L490.2 305.9L494.2 305.9L498.2 305.9L502.2 305.9L506.2 305.9L510.2 305.9L514.2 305.9L518.2 305.9L522.2 305.9L526.2 305.9L530.2 305.9L534.2 305.9L538.2 305.9L541.2 305.9L542.5 306.1L543.8 306.6L544.8 307.4L545.6 308.4L546.1 309.6L546.2 310.9L546.2 382" stroke="#0a0afa" stroke-width="2.6" />
<path d="M160.5 316.5L164.5 316.5L168.5 316.4L172.5 316.3L176.5 316.2L180.5 316.1L184.5 315.9L188.5 315.8L192.5 315.7L196.5 315.6L200.5 315.4L204.5 315.3L208.5 315.1L212.5 314.9L216.5 314.8L220.5 314.6L224.5 314.4L228.5 314.2L232.5 313.9L236.5 313.7L240.5 313.5L244.5 313.3L248.5 313L252.5 312.8L256.5 312.5L260.5 312.2L264.5 311.9L268.5 311.5L272.5 311.2L276.5 310.8L280.5 310.5L284.5 310.1L288.5 309.8L292.5 309.5L296.5 309.2L300.5 308.9L304.5 308.5L308.5 308.2L312.5 307.8L316.5 307.5L320.5 307.3L321.2 307.2L322 307.2L322.8 307.1L323.5 307L324.2 306.9L325 306.8L325.8 306.7L326.5 306.6L327.2 306.5L328 306.4L328.8 306.3L329.5 306.2L330.2 306.1L331 305.9L331.8 305.6L332.5 305.4L333.2 305.1L334 304.8L334.8 304.5L335.5 304.1L336.2 303.7L337 303.2L337.8 302.7L338.5 302L339.2 301.2L340 300.3L340.8 299.4L341.5 298.3L342.2 297.2L343 296L343.8 294.7L344.5 293.2L345.2 291.4L346 289.3L346.8 287.2L347.5 285.3L348.2 283.4L349 281.6L349.8 279.8L350.5 278.2L351.2 276.5L352 274.7L352.8 272.9L353.5 271.2L354.2 269.5L355 267.9L355.8 266.6L356.5 265.4L357.2 264.5L358 263.6L358.8 262.7L359.5 261.9L360.2 261.2L361 260.6L361.8 260.2L362.5 260L363.2 260L364 260.3L364.8 260.8L365.5 261.5L366.2 262.4L367 263.3L367.8 264.4L368.5 265.5L369.2 266.9L370 268.8L370.8 271L371.5 273.4L372.2 275.7L373 277.8L373.8 279.7L374.5 281.8L375.2 284L376 285.9L376.8 287.5L377.5 288.4L378.2 288L379 286.4L379.8 284.4L380.5 282L381.2 279.7L382 277.5L382.8 275L383.5 272.4L384.2 269.9L385 267.7L385.8 265.9L386.5 264.2L387.2 262.6L388 261.5L388.8 261.2L389.5 261.6L390.2 262.6L391 264L391.8 265.5L392.5 267.3L393.2 270L394 273.1L394.8 276.2L395.5 279.2L396.2 282.2L397 285.3L397.8 288.8L398.5 292.2L399.2 294.9L400 297.1L400.8 299L401.5 300.9L402.2 302.4L403 303.6L403.8 304.5L404.5 305L405.2 305.4L406 305.8L406.8 306.2L407.5 306.4L408.2 306.7L409 306.9L409.8 307L410.5 307.1L411.2 307.2L412 307.3L412.8 307.3L413.5 307.4L414.2 307.4L418.2 307.4L422.2 307.4L426.2 307.4L430.2 307.4L434.2 307.4L438.2 307.4L442.2 307.4L446.2 307.4L450.2 307.4L454.2 307.4L458.2 307.4L462.2 307.4L466.2 307.4L470.2 307.4L474.2 307.4L478.2 307.4L482.2 307.4L486.2 307.4L490.2 307.4L494.2 307.4L498.2 307.4L502.2 307.4L506.2 307.4L510.2 307.4L514.2 307.4L518.2 307.4L522.2 307.4L526.2 307.4L530.2 307.4L534.2 307.4L538.2 307.4L540.7 307.4L542 307.6L543.2 308.1L544.2 308.9L545 309.9L545.5 311.2L545.7 312.4L545.7 381.7" stroke="#0a0afa" stroke-width="2.6" />
<path d="M160.5 317.2L164.5 317.1L168.5 317.1L172.5 317L176.5 316.9L180.5 316.8L184.5 316.7L188.5 316.6L192.5 316.5L196.5 316.4L200.5 316.3L204.5 316.1L208.5 316L212.5 315.8L216.5 315.7L220.5 315.5L224.5 315.3L228.5 315.1L232.5 315L236.5 314.7L240.5 314.5L244.5 314.3L248.5 314.1L252.5 313.9L256.5 313.6L260.5 313.3L264.5 313L268.5 312.7L272.5 312.4L276.5 312.1L280.5 311.7L284.5 311.4L288.5 311.1L292.5 310.8L296.5 310.5L300.5 310.2L304.5 309.9L308.5 309.6L312.5 309.2L316.5 308.9L320.5 308.7L321.2 308.7L322 308.6L322.8 308.6L323.5 308.5L324.2 308.4L325 308.4L325.8 308.3L326.5 308.2L327.2 308.1L328 308L328.8 307.9L329.5 307.8L330.2 307.7L331 307.5L331.8 307.3L332.5 307L333.2 306.8L334 306.5L334.8 306.1L335.5 305.8L336.2 305.4L337 305L337.8 304.5L338.5 303.8L339.2 303.1L340 302.2L340.8 301.3L341.5 300.2L342.2 299.1L343 297.9L343.8 296.7L344.5 295.3L345.2 293.6L346 291.6L346.8 289.4L347.5 287.1L348.2 285.3L349 283.4L349.8 281.5L350.5 279.7L351.2 278L352 276.3L352.8 274.5L353.5 272.7L354.2 270.9L355 269.2L355.8 267.6L356.5 266.3L357.2 265.1L358 264.2L358.8 263.3L359.5 262.4L360.2 261.6L361 260.9L361.8 260.4L362.5 260L363.2 259.8L364 259.8L364.8 260.2L365.5 260.7L366.2 261.5L367 262.4L367.8 263.5L368.5 264.5L369.2 265.7L370 267.3L370.8 269.3L371.5 271.6L372.2 274L373 276.3L373.8 278.4L374.5 280.4L375.2 282.5L376 284.7L376.8 286.6L377.5 288.2L378.2 289L379 288.3L379.8 286.4L380.5 284.3L381.2 281.8L382 279.5L382.8 277.2L383.5 274.7L384.2 272L385 269.5L385.8 267.3L386.5 265.5L387.2 263.7L388 262.2L388.8 261.2L389.5 261.1L390.2 261.7L391 262.8L391.8 264.2L392.5 265.8L393.2 267.8L394 270.6L394.8 273.8L395.5 277.1L396.2 280L397 283.1L397.8 286.3L398.5 290L399.2 293.5L400 296.2L400.8 298.4L401.5 300.5L402.2 302.4L403 303.9L403.8 305.2L404.5 305.9L405.2 306.5L406 306.9L406.8 307.3L407.5 307.7L408.2 308L409 308.2L409.8 308.4L410.5 308.5L411.2 308.6L412 308.7L412.8 308.8L413.5 308.8L414.2 308.9L418.2 309L422.2 309L426.2 309L430.2 309L434.2 309L438.2 309L442.2 309L446.2 309L450.2 309L454.2 309L458.2 309L462.2 309L466.2 309L470.2 309L474.2 309L478.2 309L482.2 309L486.2 309L490.2 309L494.2 309L498.2 309L502.2 309L506.2 309L510.2 309L514.2 309L518.2 309L522.2 309L526.2 309L530.2 309L534.2 309L538.2 309L540.1 309L541.4 309.1L542.6 309.6L543.7 310.4L544.5 311.5L545 312.7L545.1 314L545.1 381.4" stroke="#0a0afa" stroke-width="2.6" />
<path d="M160.5 317.8L164.5 317.8L168.5 317.7L172.5 317.7L176.5 317.6L180.5 317.5L184.5 317.5L188.5 317.4L192.5 317.3L196.5 317.2L200.5 317.1L204.5 317L208.5 316.9L212.5 316.7L216.5 316.6L220.5 316.5L224.5 316.3L228.5 316.1L232.5 316L236.5 315.8L240.5 315.6L244.5 315.4L248.5 315.2L252.5 315L256.5 314.7L260.5 314.5L264.5 314.2L268.5 313.9L272.5 313.6L276.5 313.3L280.5 313L284.5 312.7L288.5 312.4L292.5 312.1L296.5 311.8L300.5 311.6L304.5 311.3L308.5 311L312.5 310.7L316.5 310.4L320.5 310.2L321.2 310.1L322 310L322.8 310L323.5 309.9L324.2 309.8L325 309.7L325.8 309.6L326.5 309.5L327.2 309.4L328 309.3L328.8 309.1L329.5 309L330.2 308.8L331 308.6L331.8 308.3L332.5 308L333.2 307.7L334 307.3L334.8 306.9L335.5 306.5L336.2 306L337 305.4L337.8 304.7L338.5 303.9L339.2 303L340 301.9L340.8 300.8L341.5 299.7L342.2 298.4L343 297.1L343.8 295.4L344.5 293.5L345.2 291.4L346 289.1L346.8 287.1L347.5 285.3L348.2 283.4L349 281.7L349.8 280.1L350.5 278.4L351.2 276.7L352 274.9L352.8 273.2L353.5 271.5L354.2 269.9L355 268.6L355.8 267.4L356.5 266.5L357.2 265.6L358 264.7L358.8 264L359.5 263.2L360.2 262.7L361 262.2L361.8 262L362.5 262L363.2 262.2L364 262.7L364.8 263.4L365.5 264.3L366.2 265.2L367 266.3L367.8 267.4L368.5 268.7L369.2 270.6L370 272.8L370.8 275.1L371.5 277.4L372.2 279.5L373 281.4L373.8 283.4L374.5 285.5L375.2 287.5L376 289.2L376.8 290.2L377.5 289.9L378.2 288.3L379 286.3L379.8 283.9L380.5 281.6L381.2 279.5L382 277L382.8 274.5L383.5 272L384.2 269.8L385 268L385.8 266.2L386.5 264.6L387.2 263.5L388 263.1L388.8 263.6L389.5 264.5L390.2 265.8L391 267.3L391.8 269.1L392.5 271.7L393.2 274.7L394 277.9L394.8 280.8L395.5 283.7L396.2 286.8L397 290.3L397.8 294L398.5 297L399.2 299.3L400 301.4L400.8 303.4L401.5 305L402.2 306.4L403 307.3L403.8 307.8L404.5 308.3L405.2 308.7L406 309.1L406.8 309.4L407.5 309.7L408.2 309.9L409 310L409.8 310.1L410.5 310.2L411.2 310.3L412 310.3L412.8 310.4L413.5 310.4L414.2 310.5L418.2 310.5L422.2 310.5L426.2 310.5L430.2 310.5L434.2 310.5L438.2 310.5L442.2 310.5L446.2 310.5L450.2 310.5L454.2 310.5L458.2 310.5L462.2 310.5L466.2 310.5L470.2 310.5L474.2 310.5L478.2 310.5L482.2 310.5L486.2 310.5L490.2 310.5L494.2 310.5L498.2 310.5L502.2 310.5L506.2 310.5L510.2 310.5L514.2 310.5L518.2 310.5L522.2 310.5L526.2 310.5L530.2 310.5L534.2 310.5L538.2 310.5L539.6 310.5L540.9 310.7L542.1 311.2L543.1 312L543.9 313L544.4 314.2L544.6 315.5L544.6 381.1" stroke="#0a0afa" stroke-width="2.6" />
<path d="M161 316.5C175.8 315.8 223.2 314 250 312.5C276.8 311 307.3 308.9 322 307.5C336.7 306.1 333.9 305.9 338 304.2C342.1 302.4 344 300.9 346.5 297C349 293.1 350.9 286.1 353 281C355.1 275.9 357.2 269.7 359 266.5C360.8 263.3 362.8 262.8 363.5 262" stroke="#000000" stroke-width="2.2" />
<path d="M403.5 303.3L408 305.5L414 306.3L539.6 306.3L540.6 306.4L541.6 306.8L542.4 307.5L543.1 308.3L543.5 309.3L543.6 310.3L543.6 366" stroke="#000000" stroke-width="1.8" stroke-linejoin="round"/>
<path d="M403.5 306.2L408 308.4L414 309.2L537.6 309.2L538.6 309.3L539.6 309.7L540.4 310.4L541.1 311.2L541.5 312.2L541.6 313.2L541.6 368.5" stroke="#000000" stroke-width="1.8" stroke-linejoin="round"/>
<path d="M428 298.8H446M470 299.4H478M492 298.6H520M526 300.6H538" stroke="#fff" stroke-width="0.9" opacity="0.85"/>
<path d="M160.3 314L160.3 345L162.5 352.9L166.5 357.7L170.5 359.1L174.5 359.5L178.5 359.8L182.5 360L186.5 360.2L190.5 360.3L194.5 360.4L198.5 360.5L202.5 360.6L206.5 360.7L210.5 360.8L214.5 360.9L218.5 361L222.5 361L226.5 361.1L230.5 361.2L234.5 361.2L238.5 361.3L242.5 361.4L246.5 361.5L250.5 361.6L254.5 361.7L258.5 361.8L262.5 361.9L266.5 362L270.5 362.1L274.5 362.3L278.5 362.4L282.5 362.5L286.5 362.7L290.5 362.8L294.5 363L298.5 363.1L302.5 362.5L306.5 362.8L310.5 363.1L314.5 363.5L318.5 363.8L322.5 364.2L326.5 364.6L330.5 364.9L334.5 365.3L338.5 365.7L342.5 366L346.5 366.4L350.5 366.8L354.5 367.2L358.5 367.6L362.5 368L366.5 368.4L370.5 368.8L374.5 369.2L378.5 369.6L382.5 370.1L386.5 370.6L390.5 371.1L391.2 371.2L392 371.3L392.8 371.4L393.5 371.5L394.2 371.6L395 371.7L395.8 371.8L396.5 372L397.2 372.2L398 372.4L398.8 372.6L399.5 372.9L400.2 373.1L401 373.4L401.8 373.7L402.5 374L403.2 374.4L404 374.8L404.8 375.3L405.5 375.8L406.2 376.4L407 377L407.8 377.6L408.5 378.2L409.2 378.8L410 379.5L410.8 380.3L411.5 381.1L412.2 382L413 382.9L413.8 383.9L414.5 384.9L415.2 386.2L416 387.5L416.8 389L417.5 390.6L418.2 392.4L419 394.6L419.8 397L420.5 399.8L421.2 402.8L422 406L422.8 409.4L423.5 413.3L424.2 416.9L425 420.6L425.8 424.4L426.5 428.5L427.2 432.9L428 437.2L428.8 441.4L429.5 445.4L430.2 449.4L431 453.3L431.8 457.2L432.5 461.1L433.2 465L434 468.8L434.8 472.7L435.5 476.2L436.2 479.3L437 478.7L437.8 475.7L438.5 471.9L439.2 467.4L440 463.2L440.8 458.9L441.5 454.6L442.2 450.2L443 445.7L443.8 441.1L444.5 436.4L445.2 431.5L446 426.3L446.8 421L447.5 415.6L448.2 410.1L449 403.9L449.8 398L450.5 392.4L451.2 387.4L452 383.4L452.8 379.8L453.5 377.3L454.2 375.7L455 374.4L455.8 373.5L456.5 373.1L457.2 372.8L458 372.6L458.8 372.4L459.5 372.2L460.2 372.1L461 372.1L461.8 372.1L462.5 372.1L463.2 372L464 372L464.8 372L465.5 372L466.2 372L470.2 372L474.2 372L478.2 372L482.2 372L486.2 372L490.2 372L494.2 372L498.2 372L502.2 372L506.2 372L510.2 372L514.2 372L518.2 372L522.2 372L526.2 372L530.2 372L534.2 372L538.2 372L542.2 372L546.2 372L547.5 372" stroke="#0a0afa" stroke-width="2.6" />
<path d="M161.2 314L161.2 345L162.5 353.4L166.5 358.3L170.5 359.7L174.5 360.1L178.5 360.5L182.5 360.7L186.5 360.9L190.5 361L194.5 361.1L198.5 361.2L202.5 361.4L206.5 361.5L210.5 361.6L214.5 361.8L218.5 361.9L222.5 362L226.5 362L230.5 362.1L234.5 362.2L238.5 362.3L242.5 362.4L246.5 362.5L250.5 362.7L254.5 362.8L258.5 362.9L262.5 363.1L266.5 363.2L270.5 363.4L274.5 363.5L278.5 363.7L282.5 363.8L286.5 364L290.5 364.2L294.5 364.4L298.5 364.5L302.5 364.1L306.5 364.4L310.5 364.7L314.5 365.1L318.5 365.4L322.5 365.8L326.5 366.1L330.5 366.5L334.5 366.9L338.5 367.2L342.5 367.6L346.5 368L350.5 368.4L354.5 368.8L358.5 369.1L362.5 369.5L366.5 369.9L370.5 370.4L374.5 370.8L378.5 371.2L382.5 371.7L386.5 372.2L390.5 372.7L391.2 372.8L392 372.9L392.8 373L393.5 373.1L394.2 373.1L395 373.2L395.8 373.3L396.5 373.4L397.2 373.6L398 373.7L398.8 373.9L399.5 374.1L400.2 374.3L401 374.6L401.8 374.8L402.5 375.1L403.2 375.4L404 375.7L404.8 376.1L405.5 376.5L406.2 377L407 377.5L407.8 378.1L408.5 378.7L409.2 379.3L410 379.9L410.8 380.6L411.5 381.3L412.2 382.1L413 382.9L413.8 383.8L414.5 384.8L415.2 385.9L416 387.1L416.8 388.5L417.5 390L418.2 391.7L419 393.6L419.8 395.9L420.5 398.6L421.2 401.6L422 404.8L422.8 408.1L423.5 412L424.2 415.9L425 419.8L425.8 423.8L426.5 428.2L427.2 432.8L428 437.4L428.8 441.7L429.5 446L430.2 450.2L431 454.3L431.8 458.5L432.5 462.6L433.2 466.6L434 470.7L434.8 474.6L435.5 478L436.2 477.6L437 474.5L437.8 470.3L438.5 465.6L439.2 461.2L440 456.6L440.8 452L441.5 447.3L442.2 442.5L443 437.5L443.8 432.4L444.5 427L445.2 421.4L446 415.7L446.8 409.8L447.5 403.4L448.2 397.4L449 391.6L449.8 386.7L450.5 382.6L451.2 379.4L452 377.3L452.8 375.8L453.5 374.7L454.2 374.2L455 374L455.8 373.7L456.5 373.5L457.2 373.3L458 373.2L458.8 373.2L459.5 373.2L460.2 373.2L461 373.2L461.8 373.2L462.5 373.1L463.2 373.1L464 373.1L464.8 373.1L465.5 373.1L466.2 373.1L470.2 373.1L474.2 373.1L478.2 373.1L482.2 373.1L486.2 373.1L490.2 373.1L494.2 373.1L498.2 373.1L502.2 373.1L506.2 373.1L510.2 373.1L514.2 373.1L518.2 373.1L522.2 373.1L526.2 373.1L530.2 373.1L534.2 373.1L538.2 373.1L542.2 373.1L546.2 373.1L547.5 373.1" stroke="#0a0afa" stroke-width="2.6" />
<path d="M162.1 314L162.1 345L162.5 354L166.5 358.8L170.5 360.3L174.5 360.8L178.5 361.1L182.5 361.4L186.5 361.6L190.5 361.7L194.5 361.8L198.5 362L202.5 362.2L206.5 362.3L210.5 362.5L214.5 362.6L218.5 362.8L222.5 362.9L226.5 363L230.5 363.1L234.5 363.2L238.5 363.4L242.5 363.5L246.5 363.6L250.5 363.8L254.5 363.9L258.5 364.1L262.5 364.3L266.5 364.4L270.5 364.6L274.5 364.8L278.5 365L282.5 365.1L286.5 365.3L290.5 365.5L294.5 365.7L298.5 366L302.5 365.7L306.5 366L310.5 366.3L314.5 366.7L318.5 367L322.5 367.4L326.5 367.7L330.5 368.1L334.5 368.5L338.5 368.8L342.5 369.2L346.5 369.6L350.5 370L354.5 370.3L358.5 370.7L362.5 371.1L366.5 371.5L370.5 371.9L374.5 372.4L378.5 372.8L382.5 373.3L386.5 373.7L390.5 374.2L391.2 374.3L392 374.4L392.8 374.5L393.5 374.6L394.2 374.7L395 374.9L395.8 375L396.5 375.2L397.2 375.4L398 375.6L398.8 375.8L399.5 376.1L400.2 376.3L401 376.6L401.8 376.8L402.5 377.2L403.2 377.5L404 378L404.8 378.4L405.5 378.9L406.2 379.5L407 380L407.8 380.6L408.5 381.1L409.2 381.8L410 382.4L410.8 383.2L411.5 383.9L412.2 384.7L413 385.5L413.8 386.4L414.5 387.5L415.2 388.6L416 389.8L416.8 391.2L417.5 392.6L418.2 394.3L419 396.2L419.8 398.4L420.5 400.9L421.2 403.7L422 406.6L422.8 409.7L423.5 413.2L424.2 416.7L425 420.4L425.8 424.1L426.5 428L427.2 432.3L428 436.6L428.8 440.8L429.5 444.8L430.2 448.8L431 452.7L431.8 456.5L432.5 460.4L433.2 464.2L434 468L434.8 471.8L435.5 475.6L436.2 479L437 481.2L437.8 479.4L438.5 476.3L439.2 472.2L440 467.8L440.8 463.6L441.5 459.4L442.2 455.1L443 450.7L443.8 446.2L444.5 441.6L445.2 436.9L446 432L446.8 426.9L447.5 421.6L448.2 416.3L449 410.9L449.8 405L450.5 399.5L451.2 394.2L452 389.4L452.8 385.5L453.5 382.1L454.2 379.6L455 378L455.8 376.6L456.5 375.7L457.2 375.3L458 375L458.8 374.8L459.5 374.6L460.2 374.4L461 374.3L461.8 374.3L462.5 374.2L463.2 374.2L464 374.2L464.8 374.2L465.5 374.2L466.2 374.2L470.2 374.2L474.2 374.2L478.2 374.2L482.2 374.2L486.2 374.2L490.2 374.2L494.2 374.2L498.2 374.2L502.2 374.2L506.2 374.2L510.2 374.2L514.2 374.2L518.2 374.2L522.2 374.2L526.2 374.2L530.2 374.2L534.2 374.2L538.2 374.2L542.2 374.2L546.2 374.2L547.5 374.2" stroke="#0a0afa" stroke-width="2.6" />
<path d="M160.3 314L160.3 345L162.5 354.5L166.5 359.4L170.5 360.9L174.5 361.4L178.5 361.8L182.5 362L186.5 362.3L190.5 362.4L194.5 362.6L198.5 362.8L202.5 363L206.5 363.2L210.5 363.3L214.5 363.5L218.5 363.7L222.5 363.8L226.5 363.9L230.5 364.1L234.5 364.2L238.5 364.4L242.5 364.5L246.5 364.7L250.5 364.9L254.5 365.1L258.5 365.2L262.5 365.4L266.5 365.6L270.5 365.8L274.5 366L278.5 366.2L282.5 366.5L286.5 366.7L290.5 366.9L294.5 367.1L298.5 367.4L302.5 367.2L306.5 367.6L310.5 367.9L314.5 368.2L318.5 368.6L322.5 368.9L326.5 369.3L330.5 369.7L334.5 370L338.5 370.4L342.5 370.8L346.5 371.2L350.5 371.5L354.5 371.9L358.5 372.3L362.5 372.7L366.5 373.1L370.5 373.5L374.5 373.9L378.5 374.4L382.5 374.8L386.5 375.3L390.5 375.8L391.2 375.9L392 376L392.8 376.1L393.5 376.2L394.2 376.3L395 376.4L395.8 376.5L396.5 376.6L397.2 376.7L398 376.8L398.8 376.9L399.5 377L400.2 377.1L401 377.2L401.8 377.4L402.5 377.6L403.2 377.9L404 378.1L404.8 378.4L405.5 378.7L406.2 379L407 379.3L407.8 379.7L408.5 380.1L409.2 380.6L410 381.1L410.8 381.6L411.5 382.1L412.2 382.7L413 383.3L413.8 383.9L414.5 384.7L415.2 385.5L416 386.4L416.8 387.4L417.5 388.5L418.2 389.8L419 391.2L419.8 392.8L420.5 394.6L421.2 396.8L422 399.4L422.8 402.3L423.5 405.5L424.2 408.9L425 412.8L425.8 416.8L426.5 421L427.2 425.3L428 430.1L428.8 435L429.5 439.7L430.2 444.1L431 448.6L431.8 452.9L432.5 457.3L433.2 461.6L434 465.9L434.8 470.2L435.5 474.1L436.2 476.6L437 474.1L437.8 470.2L438.5 465.3L439.2 460.6L440 455.8L440.8 450.9L441.5 445.9L442.2 440.9L443 435.6L443.8 430.2L444.5 424.4L445.2 418.4L446 412.4L446.8 406L447.5 399.8L448.2 393.9L449 388.7L449.8 384.6L450.5 381.2L451.2 379.2L452 377.6L452.8 376.7L453.5 376.3L454.2 376L455 375.8L455.8 375.6L456.5 375.5L457.2 375.4L458 375.4L458.8 375.4L459.5 375.4L460.2 375.4L461 375.4L461.8 375.3L462.5 375.3L463.2 375.3L464 375.3L464.8 375.3L465.5 375.3L466.2 375.3L470.2 375.3L474.2 375.3L478.2 375.3L482.2 375.3L486.2 375.3L490.2 375.3L494.2 375.3L498.2 375.3L502.2 375.3L506.2 375.3L510.2 375.3L514.2 375.3L518.2 375.3L522.2 375.3L526.2 375.3L530.2 375.3L534.2 375.3L538.2 375.3L542.2 375.3L546.2 375.3L547.5 375.3" stroke="#0a0afa" stroke-width="2.6" />
<path d="M161.2 314L161.2 345L162.5 355.1L166.5 360L170.5 361.5L174.5 362L178.5 362.4L182.5 362.7L186.5 362.9L190.5 363.2L194.5 363.3L198.5 363.5L202.5 363.8L206.5 364L210.5 364.2L214.5 364.4L218.5 364.6L222.5 364.7L226.5 364.9L230.5 365.1L234.5 365.2L238.5 365.4L242.5 365.6L246.5 365.8L250.5 366L254.5 366.2L258.5 366.4L262.5 366.6L266.5 366.8L270.5 367.1L274.5 367.3L278.5 367.5L282.5 367.8L286.5 368L290.5 368.3L294.5 368.5L298.5 368.8L302.5 368.8L306.5 369.1L310.5 369.5L314.5 369.8L318.5 370.2L322.5 370.5L326.5 370.9L330.5 371.2L334.5 371.6L338.5 372L342.5 372.4L346.5 372.7L350.5 373.1L354.5 373.5L358.5 373.9L362.5 374.3L366.5 374.7L370.5 375.1L374.5 375.5L378.5 376L382.5 376.4L386.5 376.9L390.5 377.4L391.2 377.5L392 377.6L392.8 377.7L393.5 377.8L394.2 377.9L395 378L395.8 378.1L396.5 378.2L397.2 378.3L398 378.5L398.8 378.6L399.5 378.8L400.2 379L401 379.3L401.8 379.5L402.5 379.8L403.2 380.1L404 380.4L404.8 380.7L405.5 381.1L406.2 381.5L407 382L407.8 382.5L408.5 383L409.2 383.5L410 384L410.8 384.6L411.5 385.2L412.2 385.8L413 386.5L413.8 387.3L414.5 388.1L415.2 389L416 390L416.8 391.1L417.5 392.3L418.2 393.6L419 395.1L419.8 396.7L420.5 398.7L421.2 401.1L422 403.6L422.8 406.4L423.5 409.3L424.2 412.7L425 416.2L425.8 420L426.5 423.8L427.2 427.9L428 432.3L428.8 436.7L429.5 441.1L430.2 445.2L431 449.3L431.8 453.3L432.5 457.3L433.2 461.3L434 465.3L434.8 469.2L435.5 473.2L436.2 476.8L437 480L437.8 479.3L438.5 476.3L439.2 472.3L440 467.7L440.8 463.4L441.5 459L442.2 454.5L443 449.9L443.8 445.3L444.5 440.5L445.2 435.6L446 430.5L446.8 425.1L447.5 419.7L448.2 414.2L449 408.4L449.8 402.7L450.5 397.4L451.2 392.3L452 388.2L452.8 384.7L453.5 381.9L454.2 380.2L455 378.8L455.8 377.9L456.5 377.4L457.2 377.2L458 376.9L458.8 376.7L459.5 376.6L460.2 376.5L461 376.4L461.8 376.4L462.5 376.4L463.2 376.4L464 376.4L464.8 376.4L465.5 376.4L466.2 376.4L470.2 376.4L474.2 376.4L478.2 376.4L482.2 376.4L486.2 376.4L490.2 376.4L494.2 376.4L498.2 376.4L502.2 376.4L506.2 376.4L510.2 376.4L514.2 376.4L518.2 376.4L522.2 376.4L526.2 376.4L530.2 376.4L534.2 376.4L538.2 376.4L542.2 376.4L546.2 376.4L547.5 376.4" stroke="#0a0afa" stroke-width="2.6" />
<path d="M162.1 314L162.1 345L162.5 355.6L166.5 360.5L170.5 362.1L174.5 362.6L178.5 363L182.5 363.4L186.5 363.6L190.5 363.9L194.5 364.1L198.5 364.3L202.5 364.6L206.5 364.8L210.5 365L214.5 365.2L218.5 365.5L222.5 365.6L226.5 365.8L230.5 366L234.5 366.2L238.5 366.4L242.5 366.6L246.5 366.9L250.5 367.1L254.5 367.3L258.5 367.6L262.5 367.8L266.5 368L270.5 368.3L274.5 368.5L278.5 368.8L282.5 369.1L286.5 369.3L290.5 369.6L294.5 369.9L298.5 370.2L302.5 370.4L306.5 370.7L310.5 371.1L314.5 371.4L318.5 371.7L322.5 372.1L326.5 372.5L330.5 372.8L334.5 373.2L338.5 373.6L342.5 373.9L346.5 374.3L350.5 374.7L354.5 375.1L358.5 375.5L362.5 375.9L366.5 376.3L370.5 376.7L374.5 377.1L378.5 377.5L382.5 378L386.5 378.5L390.5 379L391.2 379.1L392 379.2L392.8 379.3L393.5 379.4L394.2 379.5L395 379.6L395.8 379.7L396.5 379.8L397.2 379.9L398 380L398.8 380.1L399.5 380.1L400.2 380.2L401 380.3L401.8 380.5L402.5 380.6L403.2 380.7L404 380.9L404.8 381.2L405.5 381.4L406.2 381.7L407 381.9L407.8 382.2L408.5 382.5L409.2 382.8L410 383.2L410.8 383.6L411.5 384L412.2 384.5L413 384.9L413.8 385.4L414.5 386L415.2 386.7L416 387.4L416.8 388.2L417.5 389.1L418.2 390.1L419 391.2L419.8 392.5L420.5 394L421.2 395.7L422 397.7L422.8 400.2L423.5 403L424.2 406.1L425 409.5L425.8 413.4L426.5 417.6L427.2 422L428 426.7L428.8 431.8L429.5 436.8L430.2 441.5L431 446.1L431.8 450.6L432.5 455.2L433.2 459.7L434 464.1L434.8 468.7L435.5 472.6L436.2 473.9L437 470.6L437.8 466L438.5 460.9L439.2 456L440 450.9L440.8 445.8L441.5 440.5L442.2 435.1L443 429.4L443.8 423.4L444.5 417.2L445.2 410.9L446 404.4L446.8 398.4L447.5 392.7L448.2 388.2L449 384.4L449.8 381.9L450.5 380.2L451.2 379L452 378.5L452.8 378.2L453.5 378L454.2 377.8L455 377.7L455.8 377.6L456.5 377.6L457.2 377.6L458 377.6L458.8 377.6L459.5 377.6L460.2 377.5L461 377.5L461.8 377.5L462.5 377.5L463.2 377.5L464 377.5L464.8 377.5L465.5 377.5L466.2 377.5L470.2 377.5L474.2 377.5L478.2 377.5L482.2 377.5L486.2 377.5L490.2 377.5L494.2 377.5L498.2 377.5L502.2 377.5L506.2 377.5L510.2 377.5L514.2 377.5L518.2 377.5L522.2 377.5L526.2 377.5L530.2 377.5L534.2 377.5L538.2 377.5L542.2 377.5L546.2 377.5L547.5 377.5" stroke="#0a0afa" stroke-width="2.6" />
<path d="M160.3 314L160.3 345L162.5 356.2L166.5 361.1L170.5 362.7L174.5 363.2L178.5 363.7L182.5 364L186.5 364.3L190.5 364.6L194.5 364.8L198.5 365.1L202.5 365.4L206.5 365.6L210.5 365.9L214.5 366.1L218.5 366.4L222.5 366.6L226.5 366.8L230.5 367L234.5 367.2L238.5 367.5L242.5 367.7L246.5 367.9L250.5 368.2L254.5 368.4L258.5 368.7L262.5 369L266.5 369.2L270.5 369.5L274.5 369.8L278.5 370.1L282.5 370.4L286.5 370.7L290.5 371L294.5 371.3L298.5 371.6L302.5 372L306.5 372.3L310.5 372.6L314.5 373L318.5 373.3L322.5 373.7L326.5 374L330.5 374.4L334.5 374.8L338.5 375.2L342.5 375.5L346.5 375.9L350.5 376.3L354.5 376.7L358.5 377L362.5 377.4L366.5 377.8L370.5 378.3L374.5 378.7L378.5 379.1L382.5 379.6L386.5 380.1L390.5 380.6L391.2 380.7L392 380.8L392.8 380.9L393.5 381L394.2 381.1L395 381.2L395.8 381.3L396.5 381.3L397.2 381.4L398 381.5L398.8 381.6L399.5 381.8L400.2 381.9L401 382.1L401.8 382.3L402.5 382.5L403.2 382.8L404 383L404.8 383.3L405.5 383.6L406.2 383.9L407 384.2L407.8 384.6L408.5 385L409.2 385.5L410 386L410.8 386.5L411.5 386.9L412.2 387.5L413 388L413.8 388.7L414.5 389.4L415.2 390.1L416 390.9L416.8 391.8L417.5 392.8L418.2 394L419 395.2L419.8 396.6L420.5 398.2L421.2 400.2L422 402.5L422.8 405.1L423.5 407.9L424.2 410.9L425 414.3L425.8 418.1L426.5 422.1L427.2 426.3L428 430.9L428.8 435.6L429.5 440.2L430.2 444.6L431 448.9L431.8 453.1L432.5 457.3L433.2 461.6L434 465.7L434.8 469.9L435.5 474L436.2 477.6L437 478.7L437.8 475.8L438.5 471.8L439.2 466.9L440 462.4L440.8 457.7L441.5 453L442.2 448.2L443 443.2L443.8 438.2L444.5 432.9L445.2 427.3L446 421.6L446.8 415.8L447.5 409.8L448.2 404.1L449 398.7L449.8 393.6L450.5 389.5L451.2 386L452 383.4L452.8 381.8L453.5 380.5L454.2 379.8L455 379.5L455.8 379.2L456.5 379L457.2 378.8L458 378.7L458.8 378.7L459.5 378.7L460.2 378.6L461 378.6L461.8 378.6L462.5 378.6L463.2 378.6L464 378.6L464.8 378.6L465.5 378.6L466.2 378.6L470.2 378.5L474.2 378.5L478.2 378.5L482.2 378.5L486.2 378.5L490.2 378.5L494.2 378.5L498.2 378.5L502.2 378.5L506.2 378.5L510.2 378.5L514.2 378.5L518.2 378.5L522.2 378.5L526.2 378.5L530.2 378.5L534.2 378.5L538.2 378.5L542.2 378.5L546.2 378.5L547.5 378.5" stroke="#0a0afa" stroke-width="2.6" />
<path d="M161.2 314L161.2 345L162.5 356.7L166.5 361.7L170.5 363.3L174.5 363.9L178.5 364.3L182.5 364.7L186.5 365L190.5 365.3L194.5 365.6L198.5 365.9L202.5 366.2L206.5 366.5L210.5 366.7L214.5 367L218.5 367.2L222.5 367.5L226.5 367.7L230.5 368L234.5 368.2L238.5 368.5L242.5 368.7L246.5 369L250.5 369.3L254.5 369.6L258.5 369.9L262.5 370.2L266.5 370.4L270.5 370.7L274.5 371.1L278.5 371.4L282.5 371.7L286.5 372L290.5 372.3L294.5 372.7L298.5 373L302.5 373.6L306.5 373.9L310.5 374.2L314.5 374.6L318.5 374.9L322.5 375.3L326.5 375.6L330.5 376L334.5 376.4L338.5 376.7L342.5 377.1L346.5 377.5L350.5 377.9L354.5 378.2L358.5 378.6L362.5 379L366.5 379.4L370.5 379.8L374.5 380.3L378.5 380.7L382.5 381.2L386.5 381.6L390.5 382.2L391.2 382.3L392 382.3L392.8 382.4L393.5 382.5L394.2 382.6L395 382.7L395.8 382.8L396.5 382.9L397.2 383L398 383.1L398.8 383.2L399.5 383.3L400.2 383.4L401 383.5L401.8 383.6L402.5 383.7L403.2 383.9L404 384L404.8 384.1L405.5 384.2L406.2 384.4L407 384.6L407.8 384.8L408.5 385L409.2 385.3L410 385.5L410.8 385.7L411.5 385.9L412.2 386.2L413 386.5L413.8 386.9L414.5 387.3L415.2 387.7L416 388.1L416.8 388.7L417.5 389.2L418.2 389.9L419 390.7L419.8 391.5L420.5 392.5L421.2 393.6L422 394.9L422.8 396.4L423.5 398.1L424.2 400.4L425 403L425.8 405.8L426.5 409L427.2 412.6L428 416.9L428.8 421.4L429.5 426.2L430.2 431.4L431 436.5L431.8 441.4L432.5 446.1L433.2 450.8L434 455.5L434.8 460.1L435.5 464.7L436.2 469.1L437 472.6L437.8 470.6L438.5 466.5L439.2 461.2L440 456.1L440.8 451L441.5 445.7L442.2 440.3L443 434.7L443.8 428.9L444.5 422.6L445.2 416.2L446 409.8L446.8 403.5L447.5 397.7L448.2 392.4L449 388.3L449.8 385L450.5 383L451.2 381.6L452 380.9L452.8 380.5L453.5 380.2L454.2 380L455 379.9L455.8 379.8L456.5 379.8L457.2 379.8L458 379.8L458.8 379.8L459.5 379.7L460.2 379.7L461 379.7L461.8 379.7L462.5 379.7L463.2 379.7L464 379.7L464.8 379.7L465.5 379.7L466.2 379.7L470.2 379.6L474.2 379.6L478.2 379.6L482.2 379.6L486.2 379.6L490.2 379.6L494.2 379.6L498.2 379.6L502.2 379.6L506.2 379.6L510.2 379.6L514.2 379.6L518.2 379.6L522.2 379.6L526.2 379.6L530.2 379.6L534.2 379.6L538.2 379.6L542.2 379.6L546.2 379.6L547.5 379.6" stroke="#0a0afa" stroke-width="2.6" />
<path d="M162.1 314L162.1 345L162.5 357.2L166.5 362.2L170.5 363.9L174.5 364.5L178.5 365L182.5 365.4L186.5 365.7L190.5 366L194.5 366.3L198.5 366.6L202.5 367L206.5 367.3L210.5 367.6L214.5 367.9L218.5 368.1L222.5 368.4L226.5 368.7L230.5 369L234.5 369.2L238.5 369.5L242.5 369.8L246.5 370.1L250.5 370.4L254.5 370.7L258.5 371L262.5 371.3L266.5 371.7L270.5 372L274.5 372.3L278.5 372.6L282.5 373L286.5 373.3L290.5 373.7L294.5 374L298.5 374.4L302.5 375.1L306.5 375.5L310.5 375.8L314.5 376.1L318.5 376.5L322.5 376.8L326.5 377.2L330.5 377.6L334.5 377.9L338.5 378.3L342.5 378.7L346.5 379.1L350.5 379.4L354.5 379.8L358.5 380.2L362.5 380.6L366.5 381L370.5 381.4L374.5 381.8L378.5 382.3L382.5 382.7L386.5 383.2L390.5 383.7L391.2 383.8L392 383.9L392.8 384L393.5 384.1L394.2 384.2L395 384.3L395.8 384.4L396.5 384.5L397.2 384.6L398 384.7L398.8 384.8L399.5 384.9L400.2 385L401 385.1L401.8 385.2L402.5 385.4L403.2 385.6L404 385.8L404.8 386L405.5 386.2L406.2 386.5L407 386.8L407.8 387L408.5 387.3L409.2 387.6L410 388L410.8 388.4L411.5 388.8L412.2 389.2L413 389.7L413.8 390.1L414.5 390.7L415.2 391.3L416 391.9L416.8 392.6L417.5 393.4L418.2 394.3L419 395.3L419.8 396.5L420.5 397.8L421.2 399.3L422 401.2L422.8 403.4L423.5 405.9L424.2 408.6L425 411.6L425.8 415.1L426.5 419.2L427.2 423.5L428 428.1L428.8 433L429.5 438L430.2 442.7L431 447.2L431.8 451.7L432.5 456.2L433.2 460.6L434 465L434.8 469.4L435.5 473.6L436.2 477L437 475.5L437.8 471.8L438.5 466.8L439.2 461.9L440 457L440.8 452L441.5 446.9L442.2 441.7L443 436.3L443.8 430.7L444.5 424.7L445.2 418.6L446 412.4L446.8 406.5L447.5 401L448.2 395.8L449 391.5L449.8 387.9L450.5 385.4L451.2 383.7L452 382.5L452.8 381.9L453.5 381.6L454.2 381.3L455 381.1L455.8 381L456.5 380.9L457.2 380.9L458 380.9L458.8 380.8L459.5 380.8L460.2 380.8L461 380.8L461.8 380.8L462.5 380.8L463.2 380.8L464 380.8L464.8 380.8L465.5 380.7L466.2 380.7L470.2 380.7L474.2 380.7L478.2 380.7L482.2 380.7L486.2 380.7L490.2 380.7L494.2 380.7L498.2 380.7L502.2 380.7L506.2 380.7L510.2 380.7L514.2 380.7L518.2 380.7L522.2 380.7L526.2 380.7L530.2 380.7L534.2 380.7L538.2 380.7L542.2 380.7L546.2 380.7L547.5 380.7" stroke="#0a0afa" stroke-width="2.6" />
<path d="M160.3 314L160.3 345L162.5 357.8L166.5 362.8L170.5 364.5L174.5 365.1L178.5 365.6L182.5 366.1L186.5 366.4L190.5 366.8L194.5 367.1L198.5 367.4L202.5 367.8L206.5 368.1L210.5 368.4L214.5 368.7L218.5 369L222.5 369.3L226.5 369.6L230.5 369.9L234.5 370.2L238.5 370.5L242.5 370.8L246.5 371.2L250.5 371.5L254.5 371.8L258.5 372.2L262.5 372.5L266.5 372.9L270.5 373.2L274.5 373.6L278.5 373.9L282.5 374.3L286.5 374.7L290.5 375L294.5 375.4L298.5 375.8L302.5 376.7L306.5 377.1L310.5 377.4L314.5 377.7L318.5 378.1L322.5 378.4L326.5 378.8L330.5 379.2L334.5 379.5L338.5 379.9L342.5 380.3L346.5 380.6L350.5 381L354.5 381.4L358.5 381.8L362.5 382.2L366.5 382.6L370.5 383L374.5 383.4L378.5 383.9L382.5 384.3L386.5 384.8L390.5 385.3L391.2 385.4L392 385.5L392.8 385.6L393.5 385.7L394.2 385.8L395 385.9L395.8 386L396.5 386.1L397.2 386.2L398 386.3L398.8 386.4L399.5 386.5L400.2 386.6L401 386.7L401.8 386.8L402.5 386.9L403.2 387L404 387.1L404.8 387.3L405.5 387.4L406.2 387.5L407 387.7L407.8 387.9L408.5 388.1L409.2 388.3L410 388.5L410.8 388.7L411.5 388.9L412.2 389.1L413 389.4L413.8 389.8L414.5 390.1L415.2 390.5L416 390.9L416.8 391.3L417.5 391.9L418.2 392.5L419 393.1L419.8 393.9L420.5 394.8L421.2 395.8L422 397L422.8 398.4L423.5 400.1L424.2 402.2L425 404.7L425.8 407.4L426.5 410.4L427.2 414.1L428 418.5L428.8 423.1L429.5 428.2L430.2 433.5L431 438.6L431.8 443.4L432.5 448.2L433.2 453L434 457.7L434.8 462.3L435.5 467.1L436.2 471.2L437 471.6L437.8 468L438.5 462.7L439.2 457.5L440 452.3L440.8 447L441.5 441.5L442.2 435.9L443 430L443.8 423.8L444.5 417.3L445.2 410.7L446 404.7L446.8 399.2L447.5 394.1L448.2 390.1L449 387L449.8 385.1L450.5 383.8L451.2 383.1L452 382.8L452.8 382.5L453.5 382.2L454.2 382.1L455 382L455.8 382L456.5 382L457.2 382L458 382L458.8 381.9L459.5 381.9L460.2 381.9L461 381.9L461.8 381.9L462.5 381.9L463.2 381.9L464 381.9L464.8 381.8L465.5 381.8L466.2 381.8L470.2 381.8L474.2 381.8L478.2 381.8L482.2 381.8L486.2 381.8L490.2 381.8L494.2 381.8L498.2 381.8L502.2 381.8L506.2 381.8L510.2 381.8L514.2 381.8L518.2 381.8L522.2 381.8L526.2 381.8L530.2 381.8L534.2 381.8L538.2 381.8L542.2 381.8L546.2 381.8L547.5 381.8" stroke="#0a0afa" stroke-width="2.6" />
<path d="M161.2 314L161.2 345L162.5 358.3L166.5 363.4L170.5 365L174.5 365.7L178.5 366.3L182.5 366.7L186.5 367.1L190.5 367.5L194.5 367.8L198.5 368.2L202.5 368.6L206.5 368.9L210.5 369.3L214.5 369.6L218.5 369.9L222.5 370.3L226.5 370.6L230.5 370.9L234.5 371.2L238.5 371.6L242.5 371.9L246.5 372.2L250.5 372.6L254.5 373L258.5 373.3L262.5 373.7L266.5 374.1L270.5 374.4L274.5 374.8L278.5 375.2L282.5 375.6L286.5 376L290.5 376.4L294.5 376.8L298.5 377.2L302.5 378.3L306.5 378.6L310.5 379L314.5 379.3L318.5 379.7L322.5 380L326.5 380.4L330.5 380.7L334.5 381.1L338.5 381.5L342.5 381.9L346.5 382.2L350.5 382.6L354.5 383L358.5 383.4L362.5 383.8L366.5 384.2L370.5 384.6L374.5 385L378.5 385.5L382.5 385.9L386.5 386.4L390.5 386.9L391.2 387L392 387.1L392.8 387.2L393.5 387.3L394.2 387.4L395 387.5L395.8 387.6L396.5 387.7L397.2 387.8L398 387.9L398.8 388L399.5 388.1L400.2 388.2L401 388.4L401.8 388.6L402.5 388.8L403.2 389L404 389.2L404.8 389.5L405.5 389.8L406.2 390L407 390.3L407.8 390.7L408.5 391.1L409.2 391.5L410 391.9L410.8 392.3L411.5 392.8L412.2 393.2L413 393.7L413.8 394.3L414.5 394.9L415.2 395.5L416 396.2L416.8 397L417.5 397.9L418.2 398.9L419 400L419.8 401.2L420.5 402.7L421.2 404.5L422 406.6L422.8 408.9L423.5 411.4L424.2 414.2L425 417.6L425.8 421.6L426.5 425.8L427.2 430.2L428 435L428.8 439.8L429.5 444.3L430.2 448.7L431 453L431.8 457.3L432.5 461.6L433.2 465.8L434 470L434.8 474.3L435.5 478L436.2 479.8L437 477L437.8 473.1L438.5 468.2L439.2 463.5L440 458.8L440.8 453.9L441.5 449L442.2 444L443 438.8L443.8 433.4L444.5 427.7L445.2 421.8L446 415.9L446.8 410.2L447.5 405L448.2 400.1L449 395.7L449.8 392.1L450.5 389L451.2 387L452 385.6L452.8 384.5L453.5 384L454.2 383.7L455 383.4L455.8 383.3L456.5 383.1L457.2 383.1L458 383L458.8 383L459.5 383L460.2 383L461 383L461.8 383L462.5 383L463.2 383L464 382.9L464.8 382.9L465.5 382.9L466.2 382.9L470.2 382.9L474.2 382.9L478.2 382.9L482.2 382.9L486.2 382.9L490.2 382.9L494.2 382.9L498.2 382.9L502.2 382.9L506.2 382.9L510.2 382.9L514.2 382.9L518.2 382.9L522.2 382.9L526.2 382.9L530.2 382.9L534.2 382.9L538.2 382.9L542.2 382.9L546.2 382.9L547.5 382.9" stroke="#0a0afa" stroke-width="2.6" />
<path d="M162.1 314L162.1 345L162.5 358.9L166.5 363.9L170.5 365.6L174.5 366.3L178.5 366.9L182.5 367.4L186.5 367.8L190.5 368.2L194.5 368.6L198.5 368.9L202.5 369.4L206.5 369.7L210.5 370.1L214.5 370.5L218.5 370.8L222.5 371.2L226.5 371.5L230.5 371.9L234.5 372.2L238.5 372.6L242.5 372.9L246.5 373.3L250.5 373.7L254.5 374.1L258.5 374.5L262.5 374.9L266.5 375.3L270.5 375.7L274.5 376.1L278.5 376.5L282.5 376.9L286.5 377.3L290.5 377.8L294.5 378.2L298.5 378.6L302.5 379.9L306.5 380.2L310.5 380.5L314.5 380.9L318.5 381.2L322.5 381.6L326.5 382L330.5 382.3L334.5 382.7L338.5 383.1L342.5 383.4L346.5 383.8L350.5 384.2L354.5 384.6L358.5 385L362.5 385.4L366.5 385.8L370.5 386.2L374.5 386.6L378.5 387L382.5 387.5L386.5 388L390.5 388.5L391.2 388.6L392 388.7L392.8 388.8L393.5 388.9L394.2 389L395 389.1L395.8 389.2L396.5 389.3L397.2 389.4L398 389.4L398.8 389.5L399.5 389.6L400.2 389.7L401 389.8L401.8 389.9L402.5 390.1L403.2 390.2L404 390.3L404.8 390.5L405.5 390.6L406.2 390.8L407 391L407.8 391.2L408.5 391.4L409.2 391.7L410 391.9L410.8 392.1L411.5 392.3L412.2 392.6L413 392.9L413.8 393.3L414.5 393.6L415.2 394L416 394.3L416.8 394.8L417.5 395.3L418.2 395.9L419 396.5L419.8 397.3L420.5 398.1L421.2 399.1L422 400.3L422.8 401.6L423.5 403.3L424.2 405.3L425 407.7L425.8 410.2L426.5 413L427.2 416.7L428 421L428.8 425.6L429.5 430.5L430.2 435.7L431 440.6L431.8 445.3L432.5 449.9L433.2 454.5L434 459.1L434.8 463.6L435.5 468.2L436.2 472.3L437 475L437.8 472.3L438.5 468L439.2 462.8L440 457.8L440.8 452.7L441.5 447.4L442.2 442.1L443 436.6L443.8 430.8L444.5 424.7L445.2 418.4L446 412L446.8 406.5L447.5 401.4L448.2 396.6L449 392.8L449.8 389.7L450.5 387.7L451.2 386.3L452 385.4L452.8 385L453.5 384.7L454.2 384.5L455 384.3L455.8 384.2L456.5 384.2L457.2 384.2L458 384.1L458.8 384.1L459.5 384.1L460.2 384.1L461 384.1L461.8 384.1L462.5 384.1L463.2 384L464 384L464.8 384L465.5 384L466.2 384L470.2 384L474.2 384L478.2 384L482.2 384L486.2 384L490.2 384L494.2 384L498.2 384L502.2 384L506.2 384L510.2 384L514.2 384L518.2 384L522.2 384L526.2 384L530.2 384L534.2 384L538.2 384L542.2 384L546.2 384L547.5 384" stroke="#0a0afa" stroke-width="2.6" />
<path d="M466 379.8H474M480 377.6H540M300 372H330M498 381.6H542" stroke="#fff" stroke-width="0.9" opacity="0.85"/>
<path d="M163 318L163.6 334L166.5 347L172 355L176 356.5L180 357.9L184 359L188 359.6L192 360L196 360.4L200 360.7L204 360.9L208 361.2L212 361.3L216 361.5L220 361.7L224 361.8L228 362L232 362.1L236 362.2L240 362.3L244 362.4L248 362.5L252 362.7L256 362.8L260 362.9L264 363L268 363.1L272 363.2L276 363.4L280 363.5L284 363.6L288 363.7L292 363.9L296 364L300 364.2L304 364.4L308 364.6L312 364.9L316 365.1L320 365.4L324 365.7L328 366L332 366.3L336 366.7L340 367L344 367.3L348 367.7L352 368.1L356 368.5L360 369L364 369.4L368 369.9L372 370.3L376 370.8L380 371.2L384 371.6L388 371.9L392 372.3L396 372.6L396.8 372.6L397.5 372.7L398.2 372.7L399 372.8L399.8 372.9L400.5 372.9L401.2 373L402 373L402.8 373.1L403.5 373.2L404.2 373.2L405 373.3L405.8 373.3L406.5 373.4L407.2 373.4L408 373.6L408.8 373.7L409.5 373.9L410.2 374L411 374.2L411.8 374.4L412.5 374.6L413.2 374.9L414 375.2L414.8 375.6L415.5 376L416.2 376.4L417 376.9L417.8 377.5L418.5 378.2L419.2 378.9L420 379.7L420.8 380.7L421.5 381.8L422.2 383.2L423 384.7L423.8 386.5L424.5 388.9L425.2 391.6L426 394.6L426.8 398L427.5 402L428.2 406.3L429 410.8L429.8 415.8L430.5 420.9L431.2 425.7L432 430.4L432.8 435L433.5 439.6L434.2 444.1L435 448.7L435.8 453L436.5 456L437.2 453.4L438 449L438.8 443.8L439.5 438.8L440.2 433.6L441 428.3L441.8 422.9L442.5 417.2L443.2 411.2L444 404.9L444.8 398.6L445.5 392.1L446.2 386.1L447 380.5L447.8 376.1L448.5 372.7L449.2 370.7L450 369.3L450.8 368.6L451.5 368.3L452.2 368L453 367.7L453.8 367.6L454.5 367.5L455.2 367.5L456 367.4L456.8 367.4L457.5 367.3L458.2 367.3L459 367.2L459.8 367.2L460.5 367.1L464.5 366.9L468.5 366.8L472.5 366.8L476.5 366.7L480.5 366.7L484.5 366.7L488.5 366.7L492.5 366.6L496.5 366.6L500.5 366.6L504.5 366.6L508.5 366.6L512.5 366.6L516.5 366.5L520.5 366.5L524.5 366.5L528.5 366.5L532.5 366.5L536.5 366.5L540.5 366.5L544.5 366.5L545 366.5" stroke="#000000" stroke-width="2" />
<path d="M163 318L163.6 334L166.5 347L172 355L176 356.5L180 357.9L184 359L188 359.6L192 360L196 360.4L200 360.7L204 360.9L208 361.2L212 361.3L216 361.5L220 361.7L224 361.8L228 361.9L232 362L236 362.1L240 362.2L244 362.4L248 362.5L252 362.7L256 362.9L260 363.1L264 363.3L268 363.5L272 363.7L276 364L280 364.2L284 364.5L288 364.7L292 365L296 365.2L300 365.5L304 365.8L308 366L312 366.3L316 366.6L320 366.9L324 367.2L328 367.5L332 367.9L336 368.2L340 368.6L344 369L348 369.4L352 369.9L356 370.4L360 370.9L364 371.5L368 372L372 372.6L376 373.1L380 373.6L384 374.1L388 374.5L392 374.9L396 375.2L396.8 375.2L397.5 375.3L398.2 375.4L399 375.4L399.8 375.5L400.5 375.5L401.2 375.6L402 375.6L402.8 375.7L403.5 375.8L404.2 375.8L405 375.9L405.8 375.9L406.5 375.9L407.2 376L408 376.1L408.8 376.2L409.5 376.4L410.2 376.5L411 376.7L411.8 376.9L412.5 377.1L413.2 377.3L414 377.6L414.8 377.9L415.5 378.3L416.2 378.7L417 379.1L417.8 379.6L418.5 380.2L419.2 380.9L420 381.6L420.8 382.5L421.5 383.5L422.2 384.7L423 386L423.8 387.6L424.5 389.7L425.2 392.1L426 394.9L426.8 398L427.5 401.5L428.2 405.5L429 409.7L429.8 414.3L430.5 419.2L431.2 423.9L432 428.4L432.8 432.8L433.5 437.2L434.2 441.5L435 445.8L435.8 450.1L436.5 453.9L437.2 453.4L438 449.8L438.8 444.8L439.5 440L440.2 435.2L441 430.1L441.8 425L442.5 419.7L443.2 414.2L444 408.2L444.8 402.2L445.5 396L446.2 390.1L447 384.5L447.8 379.9L448.5 376.2L449.2 373.9L450 372.3L450.8 371.3L451.5 371L452.2 370.6L453 370.4L453.8 370.2L454.5 370.1L455.2 370.1L456 370L456.8 370L457.5 369.9L458.2 369.9L459 369.8L459.8 369.8L460.5 369.7L464.5 369.5L468.5 369.4L472.5 369.4L476.5 369.3L480.5 369.3L484.5 369.3L488.5 369.3L492.5 369.2L496.5 369.2L500.5 369.2L504.5 369.2L508.5 369.2L512.5 369.2L516.5 369.1L520.5 369.1L524.5 369.1L528.5 369.1L532.5 369.1L536.5 369.1L540.5 369.1L544.5 369.1L545 369.1" stroke="#000000" stroke-width="2" />
<path d="M544.5 360.5C537.1 360.5 512.4 360.4 500 360.5C487.6 360.6 476.7 360.7 470 361C463.3 361.3 462.9 361.4 460 362.3C457.1 363.2 454.8 363.9 452.5 366.5C450.2 369.1 448.4 372.8 446.5 378C444.6 383.2 442.7 392.1 441 398C439.3 403.9 437.7 410.3 436.5 413.5C435.3 416.7 434.9 417.1 434 417C433.1 416.9 432.5 416 431.3 413C430.1 410 428.7 403.8 427 399C425.3 394.2 423.2 388.2 421 384.5C418.8 380.8 416.8 378.6 414 376.5C411.2 374.4 409.7 373.3 404 372C398.3 370.7 390.7 369.8 380 368.5C369.3 367.2 353.3 365.2 340 364C326.7 362.8 315 361.8 300 361C285 360.2 266.7 359.8 250 359.3C233.3 358.8 211.5 358.6 200 358C188.5 357.4 185.8 356.8 181 355.8C176.2 354.8 173.8 353.8 171.5 352C169.2 350.2 168.1 348 167 345C165.9 342 165.4 337.8 165 334C164.6 330.2 164.4 324 164.3 322" stroke="#22ee22" stroke-width="2.6" />
<path d="M170.5 427.7H209" stroke="#22ee22" stroke-width="3" stroke-linecap="butt"/>
<path d="M170.5 452.3H209" stroke="#0000ee" stroke-width="3" stroke-linecap="butt"/>
<path d="M170.5 477.2H209" stroke="#000000" stroke-width="3" stroke-linecap="butt"/>
</g>
<g stroke="#000" fill="none" stroke-linecap="butt">
<path d="M120 10.8V534M117.8 534H642.8M640.6 536.2V10.8M642.8 13H117.8" stroke-width="4.4"/>
<path d="M103.3 49.9H118M103.3 111.8H118M103.3 173.7H118M103.3 235.6H118M103.3 297.5H118M103.3 359.4H118M103.3 421.3H118M103.3 483.2H118" stroke-width="4.2"/>
<path d="M125.3 534V549.6M210.2 534V542.2M295.2 534V549.6M380.2 534V542.2M465.1 534V549.6M550 534V542.2M635 534V549.6" stroke-width="4.2"/>
</g>
<g font-family="'Liberation Sans', sans-serif" fill="#000">
<text transform="translate(2.8 37.4) scale(0.81 1)" font-size="45" stroke="#000" stroke-width="0.7">a</text>
<text transform="translate(29.5 36.0) scale(1.04 0.965)" font-size="45" stroke="#000" stroke-width="0.7">)</text>
<text x="402" y="96.5" font-size="19.5" textLength="62.5" lengthAdjust="spacingAndGlyphs" >81.3&#176;C</text>
<text x="439.6" y="243" font-size="19.8" textLength="62.5" lengthAdjust="spacingAndGlyphs" >82.3&#176;C</text>
<text x="414.3" y="279.6" font-size="19.8" textLength="62.5" lengthAdjust="spacingAndGlyphs" >36.7&#176;C</text>
<text x="456.5" y="422.8" font-size="19.5" textLength="62.5" lengthAdjust="spacingAndGlyphs" >19.4&#176;C</text>
<text x="447.5" y="167" font-size="24" textLength="77" lengthAdjust="spacingAndGlyphs" >120&#181;m</text>
<text x="458.4" y="347.5" font-size="24" textLength="64.6" lengthAdjust="spacingAndGlyphs" >35&#181;m</text>
<text x="217" y="434.6" font-size="19.5" textLength="50" lengthAdjust="spacingAndGlyphs" >Cube</text>
<text x="217" y="459.4" font-size="19.5" textLength="43" lengthAdjust="spacingAndGlyphs" >Ring</text>
<text x="217" y="484.2" font-size="19.5" textLength="53.5" lengthAdjust="spacingAndGlyphs" >Beam</text>
<text x="125.3" y="582.3" font-size="25" font-weight="bold" text-anchor="middle" >-100</text>
<text x="294.6" y="582.3" font-size="25" font-weight="bold" text-anchor="middle" >0</text>
<text x="464.5" y="582.3" font-size="25" font-weight="bold" text-anchor="middle" >100</text>
<text x="634.4" y="582.3" font-size="25" font-weight="bold" text-anchor="middle" >200</text>
<text x="277.5" y="611.3" font-size="25" font-weight="bold" textLength="205" lengthAdjust="spacingAndGlyphs" >Temperature (&#186;C)</text>
<text transform="translate(79.3 390) rotate(-90)" font-size="25" font-weight="bold" textLength="233" lengthAdjust="spacingAndGlyphs">Heat Flow (mW/mg)</text>
</g>
<path d="M272.3 651V1024" stroke="#000" stroke-width="1.6" stroke-dasharray="5.7 5.8" fill="none"/>
<path d="M400 651V1024" stroke="#000" stroke-width="1.6" stroke-dasharray="5.7 5.8" fill="none"/>
<path d="M527.2 651V1024" stroke="#000" stroke-width="1.6" stroke-dasharray="5.7 5.8" fill="none"/>
<rect x="188.3" y="728.9" width="21.2" height="29.5" rx="10.6" ry="11" fill="#0808cc"/>
<rect x="208.2" y="732.2" width="21.4" height="84.8" rx="10.7" ry="11.1" fill="#ff0000"/>
<rect x="315.1" y="811.8" width="21.6" height="45.1" rx="10.8" ry="11.2" fill="#0808cc"/>
<rect x="335.8" y="908.3" width="21.8" height="101.3" rx="10.9" ry="11.3" fill="#ff0000"/>
<rect x="442.5" y="703.2" width="21.4" height="31.5" rx="10.7" ry="11.1" fill="#0808cc"/>
<rect x="463" y="817.4" width="21.4" height="173.5" rx="10.7" ry="11.1" fill="#ff0000"/>
<rect x="570" y="652.3" width="21.2" height="37.9" rx="10.6" ry="11" fill="#0808cc"/>
<rect x="590.1" y="665.6" width="21.6" height="64.7" rx="10.8" ry="11.2" fill="#ff0000"/>
<path d="M188.2 743.8H209M198.6 733.4V754.2" stroke="#ff5a1e" stroke-width="3.7" fill="none" stroke-linecap="round"/>
<path d="M208.2 763.9H229M218.6 753.5V774.3" stroke="#99ee11" stroke-width="3.7" fill="none" stroke-linecap="round"/>
<path d="M315.3 836.1H336.1M325.7 825.7V846.5" stroke="#ff5a1e" stroke-width="3.7" fill="none" stroke-linecap="round"/>
<path d="M336.1 969.8H356.9M346.5 959.4V980.2" stroke="#99ee11" stroke-width="3.7" fill="none" stroke-linecap="round"/>
<path d="M442.6 719.9H463.4M453 709.5V730.3" stroke="#ff5a1e" stroke-width="3.7" fill="none" stroke-linecap="round"/>
<path d="M463.1 903.8H483.9M473.5 893.4V914.2" stroke="#99ee11" stroke-width="3.7" fill="none" stroke-linecap="round"/>
<path d="M570.2 670.9H591M580.6 660.5V681.3" stroke="#ff5a1e" stroke-width="3.7" fill="none" stroke-linecap="round"/>
<path d="M590.2 695.5H611M600.6 685.1V705.9" stroke="#99ee11" stroke-width="3.7" fill="none" stroke-linecap="round"/>
<rect x="528.8" y="941.9" width="47.6" height="15.4" fill="#0808cc"/>
<rect x="528.8" y="970" width="47.6" height="15.7" fill="#ff0000"/>
<g stroke="#000" fill="none" stroke-linecap="butt">
<path d="M114.2 647H670.8M668.6 644.9V1028.7M670.8 1026.6H128.2M130.3 1028.7V644.9" stroke-width="4.3"/>
<path d="M114.2 697.6H130M114.2 748.3H130M114.2 799H130M114.2 849.6H130M114.2 900.2H130M114.2 950.9H130M114.2 1001.5H130" stroke-width="4.2"/>
<path d="M208.8 1011V1026M336.4 1011V1026M463.6 1011V1026M591.2 1011V1026" stroke-width="4"/>
</g>
<g font-family="'Liberation Sans', sans-serif" fill="#000">
<text transform="translate(3.55 671.6) scale(0.735 1)" font-size="48.5" stroke="#000" stroke-width="0.7">b</text>
<text transform="translate(30.5 669.2) scale(1.01 0.98)" font-size="48.5" stroke="#000" stroke-width="0.7">)</text>
<text x="106.7" y="655.8" font-size="24.6" font-weight="bold" text-anchor="end" >100</text>
<text x="106.7" y="706.4" font-size="24.6" font-weight="bold" text-anchor="end" >80</text>
<text x="106.7" y="757.1" font-size="24.6" font-weight="bold" text-anchor="end" >60</text>
<text x="106.7" y="807.8" font-size="24.6" font-weight="bold" text-anchor="end" >40</text>
<text x="106.7" y="858.4" font-size="24.6" font-weight="bold" text-anchor="end" >20</text>
<text x="106.7" y="909" font-size="24.6" font-weight="bold" text-anchor="end" >0</text>
<text x="106.7" y="959.7" font-size="24.6" font-weight="bold" text-anchor="end" >-20</text>
<text x="106.7" y="1010.3" font-size="24.6" font-weight="bold" text-anchor="end" >-40</text>
<text x="156" y="750.8" font-size="19.5" textLength="26" lengthAdjust="spacingAndGlyphs" >1.4</text>
<text x="236.3" y="780.8" font-size="19.5" textLength="27.5" lengthAdjust="spacingAndGlyphs" >8.0</text>
<text x="282.3" y="841.3" font-size="19.5" textLength="27.5" lengthAdjust="spacingAndGlyphs" >2.9</text>
<text x="359.3" y="966.4" font-size="19.5" textLength="36" lengthAdjust="spacingAndGlyphs" >13.1</text>
<text x="411.8" y="724.1" font-size="19.5" textLength="26" lengthAdjust="spacingAndGlyphs" >1.2</text>
<text x="488.3" y="912.7" font-size="19.5" textLength="37.5" lengthAdjust="spacingAndGlyphs" >17.4</text>
<text x="541" y="677.9" font-size="19.5" textLength="26" lengthAdjust="spacingAndGlyphs" >1.8</text>
<text x="618" y="704.7" font-size="19.5" textLength="28.5" lengthAdjust="spacingAndGlyphs" >4.5</text>
<text x="587" y="957" font-size="24" textLength="64.5" lengthAdjust="spacingAndGlyphs" >35&#181;m</text>
<text x="589" y="985.2" font-size="24" textLength="77" lengthAdjust="spacingAndGlyphs" >120&#181;m</text>
<text x="192" y="1061.4" font-size="25" font-weight="bold" textLength="22.4" lengthAdjust="spacingAndGlyphs" >M</text>
<text x="214" y="1067.6" font-size="19" font-weight="bold" >s</text>
<text x="322" y="1061.4" font-size="25" font-weight="bold" textLength="22.4" lengthAdjust="spacingAndGlyphs" >M</text>
<text x="343.8" y="1067.6" font-size="19" font-weight="bold" >f</text>
<text x="449.6" y="1061.4" font-size="25" font-weight="bold" textLength="18.9" lengthAdjust="spacingAndGlyphs" >A</text>
<text x="468.6" y="1067.6" font-size="19" font-weight="bold" >s</text>
<text x="579.2" y="1061.4" font-size="25" font-weight="bold" textLength="18.9" lengthAdjust="spacingAndGlyphs" >A</text>
<text x="598" y="1067.6" font-size="19" font-weight="bold" >f</text>
<text x="296.5" y="1104.6" font-size="25" font-weight="bold" textLength="205" lengthAdjust="spacingAndGlyphs" >Temperature (&#186;C)</text>
<text transform="translate(27 932) rotate(-90)" font-size="25" font-weight="bold" textLength="186" lengthAdjust="spacingAndGlyphs">Transformation</text>
<text transform="translate(55.3 939.5) rotate(-90)" font-size="25" font-weight="bold" textLength="206" lengthAdjust="spacingAndGlyphs">Temperature (&#186;C)</text>
</g>
</svg>
</body>
</html>
